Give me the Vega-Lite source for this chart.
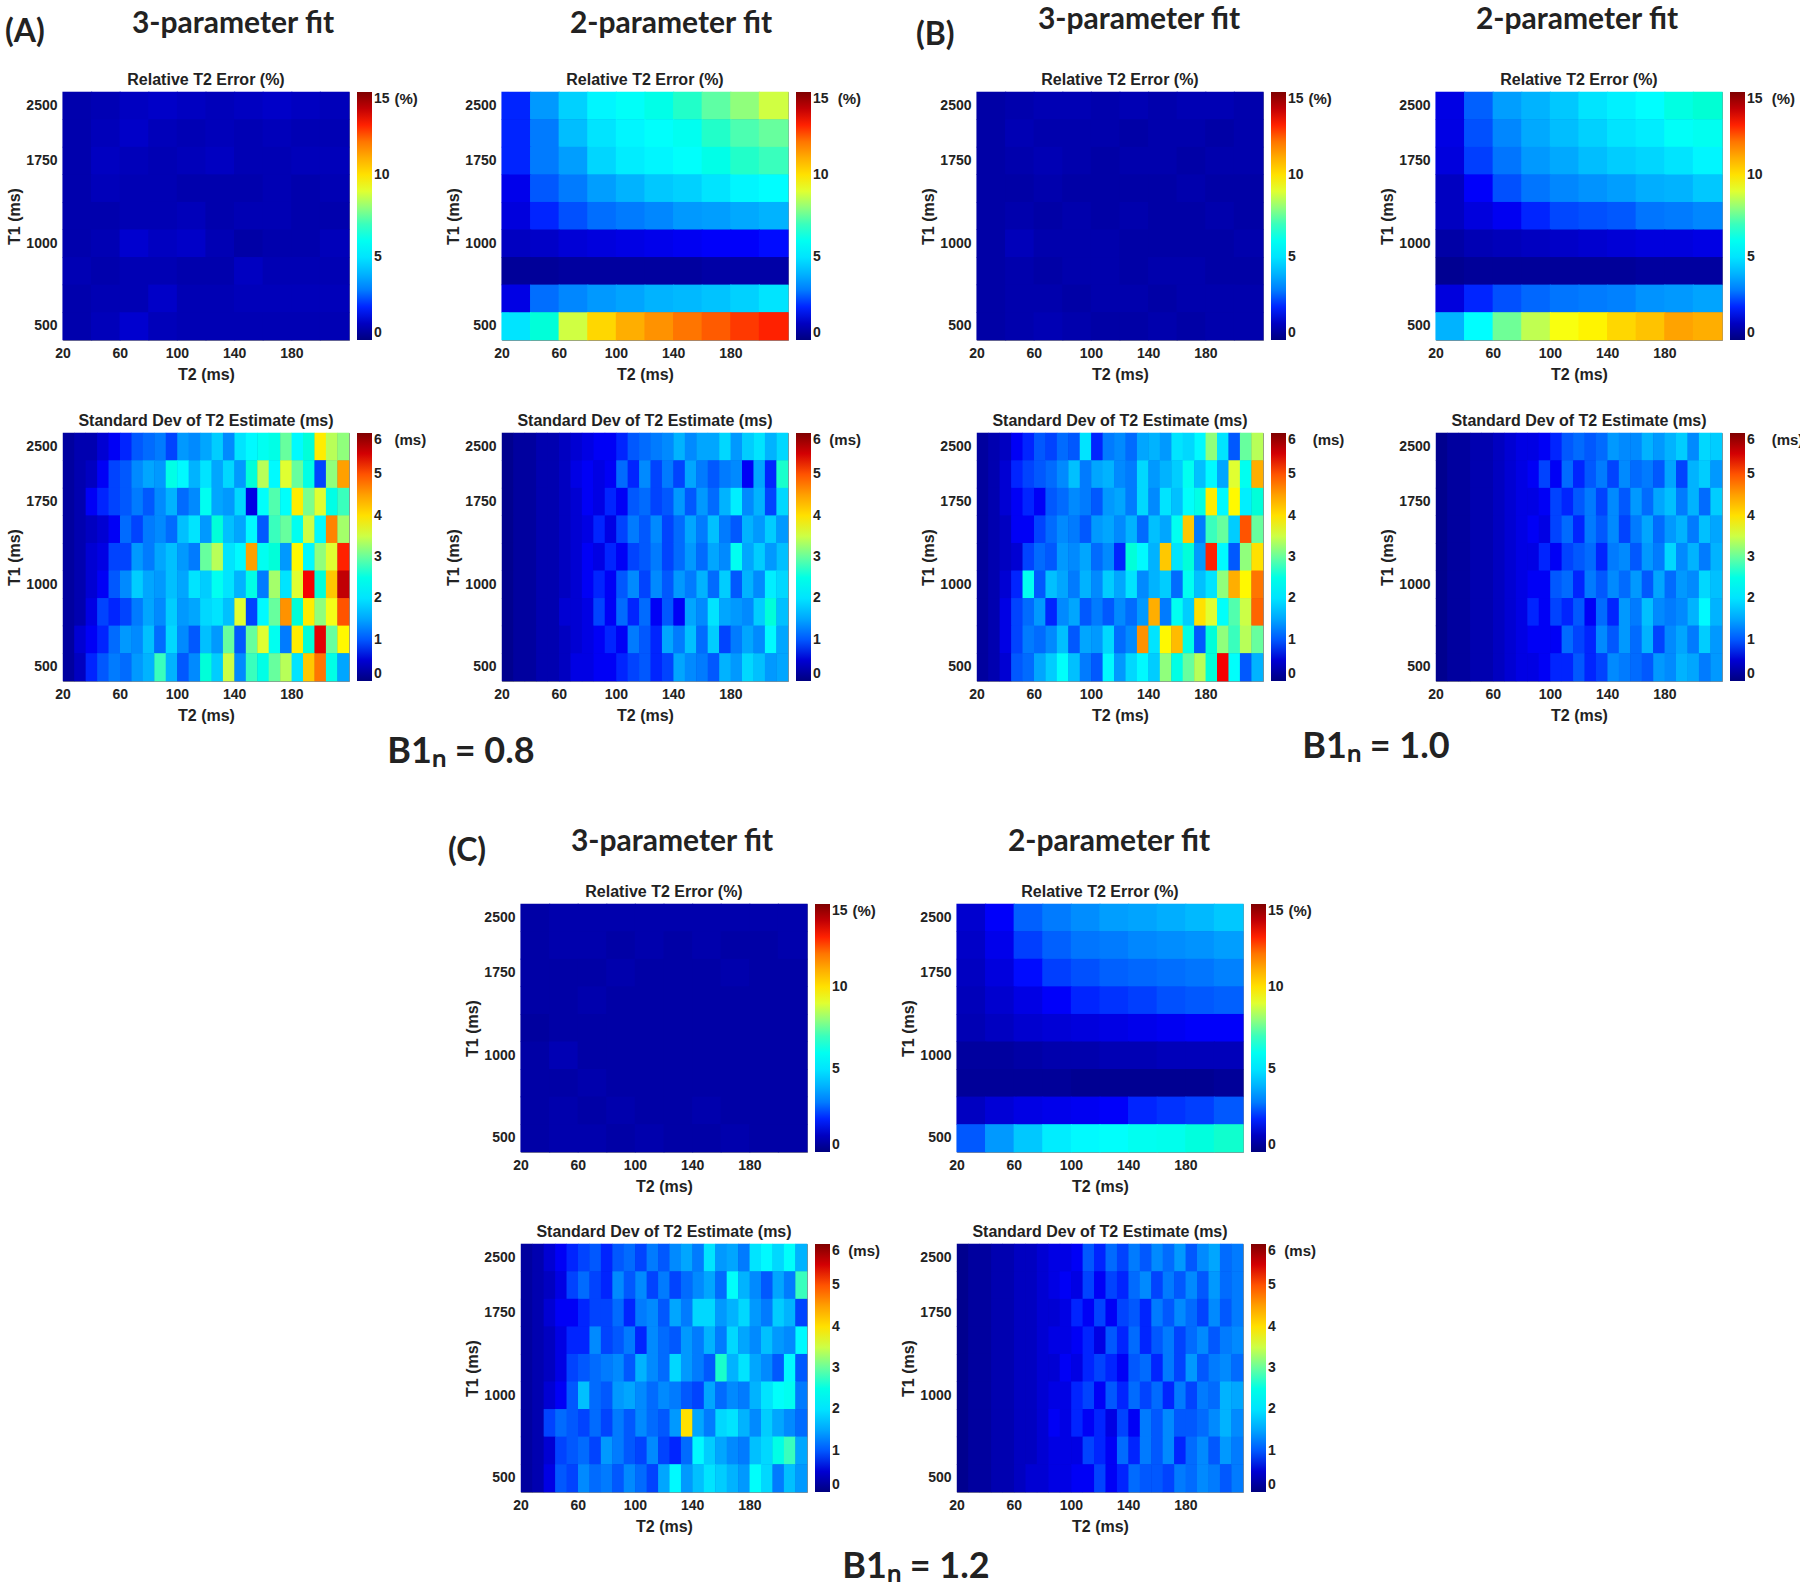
{"$schema":"https://vega.github.io/schema/vega-lite/v6.json","background":"white","padding":{"left":5,"top":5,"right":0,"bottom":0},
"config":{"view":{"stroke":"#8c8c8c","strokeWidth":1,"fill":"#0000a0"},
"axis":{"ticks":false,"domain":false,"grid":false,"labelFont":"Liberation Sans","labelFontWeight":"bold","labelFontSize":14,"labelColor":"#222","titleFont":"Liberation Sans","titleFontWeight":"bold","titleFontSize":16,"titleColor":"#222"},
"axisX":{"labelAngle":0,"labelPadding":6,"titlePadding":6},"axisY":{"labelPadding":6,"titlePadding":3},
"legend":{"orient":"right","offset":8,"gradientLength":248,"gradientThickness":15,"labelFont":"Liberation Sans","labelFontWeight":"bold","labelFontSize":14,"labelColor":"#222","labelOffset":4,"titleOrient":"top","titleAnchor":"start","titleFont":"Liberation Sans","titleFontWeight":"bold","titleFontSize":15,"titleColor":"#222","titlePadding":-15,"padding":0},
"title":{"font":"Liberation Sans","fontWeight":"bold","fontSize":16,"color":"#222","offset":4}},
"datasets":{
"a3e":[{"T1":2500,"T2":20,"v":0.7},{"T1":2500,"T2":40,"v":0.8},{"T1":2500,"T2":60,"v":1.0},{"T1":2500,"T2":80,"v":1.1},{"T1":2500,"T2":100,"v":1.0},{"T1":2500,"T2":120,"v":0.9},{"T1":2500,"T2":140,"v":1.0},{"T1":2500,"T2":160,"v":1.1},{"T1":2500,"T2":180,"v":1.0},{"T1":2500,"T2":200,"v":0.9},
{"T1":2000,"T2":20,"v":0.7},{"T1":2000,"T2":40,"v":0.9},{"T1":2000,"T2":60,"v":1.1},{"T1":2000,"T2":80,"v":0.9},{"T1":2000,"T2":100,"v":0.8},{"T1":2000,"T2":120,"v":0.9},{"T1":2000,"T2":140,"v":0.8},{"T1":2000,"T2":160,"v":0.9},{"T1":2000,"T2":180,"v":0.8},{"T1":2000,"T2":200,"v":0.8},
{"T1":1750,"T2":20,"v":0.7},{"T1":1750,"T2":40,"v":1.0},{"T1":1750,"T2":60,"v":0.9},{"T1":1750,"T2":80,"v":0.8},{"T1":1750,"T2":100,"v":0.9},{"T1":1750,"T2":120,"v":1.0},{"T1":1750,"T2":140,"v":0.8},{"T1":1750,"T2":160,"v":0.8},{"T1":1750,"T2":180,"v":0.9},{"T1":1750,"T2":200,"v":0.9},
{"T1":1500,"T2":20,"v":0.7},{"T1":1500,"T2":40,"v":0.9},{"T1":1500,"T2":60,"v":0.8},{"T1":1500,"T2":80,"v":0.8},{"T1":1500,"T2":100,"v":0.7},{"T1":1500,"T2":120,"v":0.7},{"T1":1500,"T2":140,"v":0.7},{"T1":1500,"T2":160,"v":0.8},{"T1":1500,"T2":180,"v":0.7},{"T1":1500,"T2":200,"v":0.8},
{"T1":1250,"T2":20,"v":0.7},{"T1":1250,"T2":40,"v":0.7},{"T1":1250,"T2":60,"v":0.8},{"T1":1250,"T2":80,"v":0.8},{"T1":1250,"T2":100,"v":0.9},{"T1":1250,"T2":120,"v":0.7},{"T1":1250,"T2":140,"v":0.8},{"T1":1250,"T2":160,"v":0.8},{"T1":1250,"T2":180,"v":0.7},{"T1":1250,"T2":200,"v":0.7},
{"T1":1000,"T2":20,"v":0.7},{"T1":1000,"T2":40,"v":0.8},{"T1":1000,"T2":60,"v":1.2},{"T1":1000,"T2":80,"v":1.0},{"T1":1000,"T2":100,"v":1.1},{"T1":1000,"T2":120,"v":0.8},{"T1":1000,"T2":140,"v":0.6},{"T1":1000,"T2":160,"v":0.7},{"T1":1000,"T2":180,"v":0.7},{"T1":1000,"T2":200,"v":0.9},
{"T1":850,"T2":20,"v":0.8},{"T1":850,"T2":40,"v":0.7},{"T1":850,"T2":60,"v":0.8},{"T1":850,"T2":80,"v":0.8},{"T1":850,"T2":100,"v":0.7},{"T1":850,"T2":120,"v":0.7},{"T1":850,"T2":140,"v":1.0},{"T1":850,"T2":160,"v":0.8},{"T1":850,"T2":180,"v":0.8},{"T1":850,"T2":200,"v":0.8},
{"T1":700,"T2":20,"v":0.7},{"T1":700,"T2":40,"v":0.8},{"T1":700,"T2":60,"v":0.8},{"T1":700,"T2":80,"v":1.1},{"T1":700,"T2":100,"v":0.8},{"T1":700,"T2":120,"v":0.8},{"T1":700,"T2":140,"v":0.9},{"T1":700,"T2":160,"v":0.9},{"T1":700,"T2":180,"v":0.9},{"T1":700,"T2":200,"v":0.9},
{"T1":500,"T2":20,"v":0.7},{"T1":500,"T2":40,"v":0.9},{"T1":500,"T2":60,"v":1.2},{"T1":500,"T2":80,"v":0.9},{"T1":500,"T2":100,"v":0.8},{"T1":500,"T2":120,"v":0.8},{"T1":500,"T2":140,"v":0.8},{"T1":500,"T2":160,"v":0.8},{"T1":500,"T2":180,"v":0.8},{"T1":500,"T2":200,"v":0.8}],
"a2e":[{"T1":2500,"T2":20,"v":2.0},{"T1":2500,"T2":40,"v":3.5},{"T1":2500,"T2":60,"v":4.6},{"T1":2500,"T2":80,"v":5.4},{"T1":2500,"T2":100,"v":5.8},{"T1":2500,"T2":120,"v":6.2},{"T1":2500,"T2":140,"v":6.8},{"T1":2500,"T2":160,"v":7.4},{"T1":2500,"T2":180,"v":8.0},{"T1":2500,"T2":200,"v":8.8},
{"T1":2000,"T2":20,"v":2.0},{"T1":2000,"T2":40,"v":3.0},{"T1":2000,"T2":60,"v":4.2},{"T1":2000,"T2":80,"v":5.0},{"T1":2000,"T2":100,"v":5.4},{"T1":2000,"T2":120,"v":5.7},{"T1":2000,"T2":140,"v":6.0},{"T1":2000,"T2":160,"v":6.8},{"T1":2000,"T2":180,"v":7.2},{"T1":2000,"T2":200,"v":7.5},
{"T1":1750,"T2":20,"v":2.0},{"T1":1750,"T2":40,"v":3.0},{"T1":1750,"T2":60,"v":3.6},{"T1":1750,"T2":80,"v":4.7},{"T1":1750,"T2":100,"v":5.2},{"T1":1750,"T2":120,"v":5.4},{"T1":1750,"T2":140,"v":5.7},{"T1":1750,"T2":160,"v":6.2},{"T1":1750,"T2":180,"v":6.8},{"T1":1750,"T2":200,"v":7.0},
{"T1":1500,"T2":20,"v":1.6},{"T1":1500,"T2":40,"v":2.5},{"T1":1500,"T2":60,"v":3.0},{"T1":1500,"T2":80,"v":3.6},{"T1":1500,"T2":100,"v":4.0},{"T1":1500,"T2":120,"v":4.4},{"T1":1500,"T2":140,"v":4.6},{"T1":1500,"T2":160,"v":5.0},{"T1":1500,"T2":180,"v":5.4},{"T1":1500,"T2":200,"v":5.6},
{"T1":1250,"T2":20,"v":1.4},{"T1":1250,"T2":40,"v":2.0},{"T1":1250,"T2":60,"v":2.4},{"T1":1250,"T2":80,"v":2.8},{"T1":1250,"T2":100,"v":3.0},{"T1":1250,"T2":120,"v":3.2},{"T1":1250,"T2":140,"v":3.5},{"T1":1250,"T2":160,"v":3.6},{"T1":1250,"T2":180,"v":3.8},{"T1":1250,"T2":200,"v":4.0},
{"T1":1000,"T2":20,"v":1.0},{"T1":1000,"T2":40,"v":1.1},{"T1":1000,"T2":60,"v":1.3},{"T1":1000,"T2":80,"v":1.4},{"T1":1000,"T2":100,"v":1.5},{"T1":1000,"T2":120,"v":1.6},{"T1":1000,"T2":140,"v":1.7},{"T1":1000,"T2":160,"v":1.8},{"T1":1000,"T2":180,"v":1.8},{"T1":1000,"T2":200,"v":1.9},
{"T1":850,"T2":20,"v":0.4},{"T1":850,"T2":40,"v":0.4},{"T1":850,"T2":60,"v":0.5},{"T1":850,"T2":80,"v":0.5},{"T1":850,"T2":100,"v":0.5},{"T1":850,"T2":120,"v":0.5},{"T1":850,"T2":140,"v":0.5},{"T1":850,"T2":160,"v":0.6},{"T1":850,"T2":180,"v":0.6},{"T1":850,"T2":200,"v":0.6},
{"T1":700,"T2":20,"v":1.5},{"T1":700,"T2":40,"v":2.8},{"T1":700,"T2":60,"v":3.2},{"T1":700,"T2":80,"v":3.5},{"T1":700,"T2":100,"v":3.7},{"T1":700,"T2":120,"v":4.0},{"T1":700,"T2":140,"v":4.1},{"T1":700,"T2":160,"v":4.3},{"T1":700,"T2":180,"v":4.6},{"T1":700,"T2":200,"v":5.0},
{"T1":500,"T2":20,"v":5.0},{"T1":500,"T2":40,"v":6.5},{"T1":500,"T2":60,"v":8.8},{"T1":500,"T2":80,"v":10.2},{"T1":500,"T2":100,"v":11.0},{"T1":500,"T2":120,"v":11.5},{"T1":500,"T2":140,"v":12.0},{"T1":500,"T2":160,"v":12.4},{"T1":500,"T2":180,"v":12.8},{"T1":500,"T2":200,"v":13.0}],
"b3e":[{"T1":2500,"T2":20,"v":0.6},{"T1":2500,"T2":40,"v":0.7},{"T1":2500,"T2":60,"v":0.8},{"T1":2500,"T2":80,"v":0.8},{"T1":2500,"T2":100,"v":0.7},{"T1":2500,"T2":120,"v":0.8},{"T1":2500,"T2":140,"v":0.7},{"T1":2500,"T2":160,"v":0.8},{"T1":2500,"T2":180,"v":0.8},{"T1":2500,"T2":200,"v":0.7},
{"T1":2000,"T2":20,"v":0.6},{"T1":2000,"T2":40,"v":0.8},{"T1":2000,"T2":60,"v":0.7},{"T1":2000,"T2":80,"v":0.7},{"T1":2000,"T2":100,"v":0.7},{"T1":2000,"T2":120,"v":0.6},{"T1":2000,"T2":140,"v":0.7},{"T1":2000,"T2":160,"v":0.7},{"T1":2000,"T2":180,"v":0.6},{"T1":2000,"T2":200,"v":0.7},
{"T1":1750,"T2":20,"v":0.6},{"T1":1750,"T2":40,"v":0.7},{"T1":1750,"T2":60,"v":0.8},{"T1":1750,"T2":80,"v":0.7},{"T1":1750,"T2":100,"v":0.6},{"T1":1750,"T2":120,"v":0.7},{"T1":1750,"T2":140,"v":0.7},{"T1":1750,"T2":160,"v":0.6},{"T1":1750,"T2":180,"v":0.7},{"T1":1750,"T2":200,"v":0.7},
{"T1":1500,"T2":20,"v":0.6},{"T1":1500,"T2":40,"v":0.6},{"T1":1500,"T2":60,"v":0.7},{"T1":1500,"T2":80,"v":0.6},{"T1":1500,"T2":100,"v":0.6},{"T1":1500,"T2":120,"v":0.6},{"T1":1500,"T2":140,"v":0.6},{"T1":1500,"T2":160,"v":0.7},{"T1":1500,"T2":180,"v":0.6},{"T1":1500,"T2":200,"v":0.6},
{"T1":1250,"T2":20,"v":0.6},{"T1":1250,"T2":40,"v":0.7},{"T1":1250,"T2":60,"v":0.6},{"T1":1250,"T2":80,"v":0.7},{"T1":1250,"T2":100,"v":0.6},{"T1":1250,"T2":120,"v":0.7},{"T1":1250,"T2":140,"v":0.6},{"T1":1250,"T2":160,"v":0.6},{"T1":1250,"T2":180,"v":0.7},{"T1":1250,"T2":200,"v":0.6},
{"T1":1000,"T2":20,"v":0.6},{"T1":1000,"T2":40,"v":0.9},{"T1":1000,"T2":60,"v":0.7},{"T1":1000,"T2":80,"v":0.7},{"T1":1000,"T2":100,"v":0.7},{"T1":1000,"T2":120,"v":0.6},{"T1":1000,"T2":140,"v":0.6},{"T1":1000,"T2":160,"v":0.6},{"T1":1000,"T2":180,"v":0.6},{"T1":1000,"T2":200,"v":0.7},
{"T1":850,"T2":20,"v":0.6},{"T1":850,"T2":40,"v":0.7},{"T1":850,"T2":60,"v":0.6},{"T1":850,"T2":80,"v":0.7},{"T1":850,"T2":100,"v":0.7},{"T1":850,"T2":120,"v":0.6},{"T1":850,"T2":140,"v":0.7},{"T1":850,"T2":160,"v":0.7},{"T1":850,"T2":180,"v":0.6},{"T1":850,"T2":200,"v":0.6},
{"T1":700,"T2":20,"v":0.6},{"T1":700,"T2":40,"v":0.7},{"T1":700,"T2":60,"v":0.7},{"T1":700,"T2":80,"v":0.6},{"T1":700,"T2":100,"v":0.7},{"T1":700,"T2":120,"v":0.7},{"T1":700,"T2":140,"v":0.6},{"T1":700,"T2":160,"v":0.7},{"T1":700,"T2":180,"v":0.7},{"T1":700,"T2":200,"v":0.7},
{"T1":500,"T2":20,"v":0.6},{"T1":500,"T2":40,"v":0.7},{"T1":500,"T2":60,"v":0.8},{"T1":500,"T2":80,"v":0.7},{"T1":500,"T2":100,"v":0.6},{"T1":500,"T2":120,"v":0.6},{"T1":500,"T2":140,"v":0.7},{"T1":500,"T2":160,"v":0.6},{"T1":500,"T2":180,"v":0.7},{"T1":500,"T2":200,"v":0.7}],
"b2e":[{"T1":2500,"T2":20,"v":1.5},{"T1":2500,"T2":40,"v":2.6},{"T1":2500,"T2":60,"v":3.6},{"T1":2500,"T2":80,"v":4.0},{"T1":2500,"T2":100,"v":4.4},{"T1":2500,"T2":120,"v":5.0},{"T1":2500,"T2":140,"v":5.3},{"T1":2500,"T2":160,"v":5.6},{"T1":2500,"T2":180,"v":6.3},{"T1":2500,"T2":200,"v":6.6},
{"T1":2000,"T2":20,"v":1.5},{"T1":2000,"T2":40,"v":2.4},{"T1":2000,"T2":60,"v":3.2},{"T1":2000,"T2":80,"v":3.8},{"T1":2000,"T2":100,"v":4.2},{"T1":2000,"T2":120,"v":4.6},{"T1":2000,"T2":140,"v":5.0},{"T1":2000,"T2":160,"v":5.2},{"T1":2000,"T2":180,"v":5.8},{"T1":2000,"T2":200,"v":6.0},
{"T1":1750,"T2":20,"v":1.4},{"T1":1750,"T2":40,"v":2.2},{"T1":1750,"T2":60,"v":2.9},{"T1":1750,"T2":80,"v":3.5},{"T1":1750,"T2":100,"v":3.8},{"T1":1750,"T2":120,"v":4.2},{"T1":1750,"T2":140,"v":4.5},{"T1":1750,"T2":160,"v":4.7},{"T1":1750,"T2":180,"v":5.0},{"T1":1750,"T2":200,"v":5.4},
{"T1":1500,"T2":20,"v":1.0},{"T1":1500,"T2":40,"v":1.8},{"T1":1500,"T2":60,"v":2.4},{"T1":1500,"T2":80,"v":2.9},{"T1":1500,"T2":100,"v":3.2},{"T1":1500,"T2":120,"v":3.4},{"T1":1500,"T2":140,"v":3.6},{"T1":1500,"T2":160,"v":3.9},{"T1":1500,"T2":180,"v":4.0},{"T1":1500,"T2":200,"v":4.4},
{"T1":1250,"T2":20,"v":1.0},{"T1":1250,"T2":40,"v":1.4},{"T1":1250,"T2":60,"v":1.7},{"T1":1250,"T2":80,"v":2.0},{"T1":1250,"T2":100,"v":2.3},{"T1":1250,"T2":120,"v":2.4},{"T1":1250,"T2":140,"v":2.5},{"T1":1250,"T2":160,"v":2.9},{"T1":1250,"T2":180,"v":3.0},{"T1":1250,"T2":200,"v":3.2},
{"T1":1000,"T2":20,"v":0.6},{"T1":1000,"T2":40,"v":0.8},{"T1":1000,"T2":60,"v":0.9},{"T1":1000,"T2":80,"v":1.0},{"T1":1000,"T2":100,"v":1.1},{"T1":1000,"T2":120,"v":1.2},{"T1":1000,"T2":140,"v":1.3},{"T1":1000,"T2":160,"v":1.4},{"T1":1000,"T2":180,"v":1.4},{"T1":1000,"T2":200,"v":1.5},
{"T1":850,"T2":20,"v":0.3},{"T1":850,"T2":40,"v":0.4},{"T1":850,"T2":60,"v":0.4},{"T1":850,"T2":80,"v":0.4},{"T1":850,"T2":100,"v":0.4},{"T1":850,"T2":120,"v":0.4},{"T1":850,"T2":140,"v":0.4},{"T1":850,"T2":160,"v":0.5},{"T1":850,"T2":180,"v":0.5},{"T1":850,"T2":200,"v":0.5},
{"T1":700,"T2":20,"v":1.4},{"T1":700,"T2":40,"v":2.0},{"T1":700,"T2":60,"v":2.4},{"T1":700,"T2":80,"v":2.7},{"T1":700,"T2":100,"v":2.9},{"T1":700,"T2":120,"v":3.0},{"T1":700,"T2":140,"v":3.1},{"T1":700,"T2":160,"v":3.4},{"T1":700,"T2":180,"v":3.5},{"T1":700,"T2":200,"v":3.7},
{"T1":500,"T2":20,"v":4.0},{"T1":500,"T2":40,"v":5.6},{"T1":500,"T2":60,"v":7.6},{"T1":500,"T2":80,"v":8.6},{"T1":500,"T2":100,"v":9.3},{"T1":500,"T2":120,"v":9.6},{"T1":500,"T2":140,"v":10.2},{"T1":500,"T2":160,"v":10.6},{"T1":500,"T2":180,"v":11.2},{"T1":500,"T2":200,"v":11.0}],
"c3e":[{"T1":2500,"T2":20,"v":0.6},{"T1":2500,"T2":40,"v":0.7},{"T1":2500,"T2":60,"v":0.7},{"T1":2500,"T2":80,"v":0.7},{"T1":2500,"T2":100,"v":0.7},{"T1":2500,"T2":120,"v":0.7},{"T1":2500,"T2":140,"v":0.7},{"T1":2500,"T2":160,"v":0.7},{"T1":2500,"T2":180,"v":0.7},{"T1":2500,"T2":200,"v":0.7},
{"T1":2000,"T2":20,"v":0.6},{"T1":2000,"T2":40,"v":0.7},{"T1":2000,"T2":60,"v":0.7},{"T1":2000,"T2":80,"v":0.6},{"T1":2000,"T2":100,"v":0.7},{"T1":2000,"T2":120,"v":0.6},{"T1":2000,"T2":140,"v":0.7},{"T1":2000,"T2":160,"v":0.6},{"T1":2000,"T2":180,"v":0.6},{"T1":2000,"T2":200,"v":0.7},
{"T1":1750,"T2":20,"v":0.6},{"T1":1750,"T2":40,"v":0.6},{"T1":1750,"T2":60,"v":0.6},{"T1":1750,"T2":80,"v":0.7},{"T1":1750,"T2":100,"v":0.6},{"T1":1750,"T2":120,"v":0.6},{"T1":1750,"T2":140,"v":0.6},{"T1":1750,"T2":160,"v":0.7},{"T1":1750,"T2":180,"v":0.6},{"T1":1750,"T2":200,"v":0.6},
{"T1":1500,"T2":20,"v":0.6},{"T1":1500,"T2":40,"v":0.6},{"T1":1500,"T2":60,"v":0.7},{"T1":1500,"T2":80,"v":0.6},{"T1":1500,"T2":100,"v":0.6},{"T1":1500,"T2":120,"v":0.6},{"T1":1500,"T2":140,"v":0.6},{"T1":1500,"T2":160,"v":0.6},{"T1":1500,"T2":180,"v":0.6},{"T1":1500,"T2":200,"v":0.6},
{"T1":1250,"T2":20,"v":0.5},{"T1":1250,"T2":40,"v":0.6},{"T1":1250,"T2":60,"v":0.6},{"T1":1250,"T2":80,"v":0.6},{"T1":1250,"T2":100,"v":0.6},{"T1":1250,"T2":120,"v":0.6},{"T1":1250,"T2":140,"v":0.6},{"T1":1250,"T2":160,"v":0.6},{"T1":1250,"T2":180,"v":0.6},{"T1":1250,"T2":200,"v":0.6},
{"T1":1000,"T2":20,"v":0.6},{"T1":1000,"T2":40,"v":0.8},{"T1":1000,"T2":60,"v":0.6},{"T1":1000,"T2":80,"v":0.6},{"T1":1000,"T2":100,"v":0.6},{"T1":1000,"T2":120,"v":0.6},{"T1":1000,"T2":140,"v":0.6},{"T1":1000,"T2":160,"v":0.6},{"T1":1000,"T2":180,"v":0.6},{"T1":1000,"T2":200,"v":0.6},
{"T1":850,"T2":20,"v":0.6},{"T1":850,"T2":40,"v":0.6},{"T1":850,"T2":60,"v":0.7},{"T1":850,"T2":80,"v":0.6},{"T1":850,"T2":100,"v":0.6},{"T1":850,"T2":120,"v":0.6},{"T1":850,"T2":140,"v":0.6},{"T1":850,"T2":160,"v":0.6},{"T1":850,"T2":180,"v":0.6},{"T1":850,"T2":200,"v":0.6},
{"T1":700,"T2":20,"v":0.6},{"T1":700,"T2":40,"v":0.7},{"T1":700,"T2":60,"v":0.6},{"T1":700,"T2":80,"v":0.7},{"T1":700,"T2":100,"v":0.6},{"T1":700,"T2":120,"v":0.6},{"T1":700,"T2":140,"v":0.7},{"T1":700,"T2":160,"v":0.6},{"T1":700,"T2":180,"v":0.6},{"T1":700,"T2":200,"v":0.6},
{"T1":500,"T2":20,"v":0.6},{"T1":500,"T2":40,"v":0.7},{"T1":500,"T2":60,"v":0.7},{"T1":500,"T2":80,"v":0.6},{"T1":500,"T2":100,"v":0.7},{"T1":500,"T2":120,"v":0.6},{"T1":500,"T2":140,"v":0.6},{"T1":500,"T2":160,"v":0.7},{"T1":500,"T2":180,"v":0.6},{"T1":500,"T2":200,"v":0.6}],
"c2e":[{"T1":2500,"T2":20,"v":1.2},{"T1":2500,"T2":40,"v":1.8},{"T1":2500,"T2":60,"v":2.6},{"T1":2500,"T2":80,"v":3.0},{"T1":2500,"T2":100,"v":3.3},{"T1":2500,"T2":120,"v":3.6},{"T1":2500,"T2":140,"v":3.7},{"T1":2500,"T2":160,"v":3.9},{"T1":2500,"T2":180,"v":4.1},{"T1":2500,"T2":200,"v":4.4},
{"T1":2000,"T2":20,"v":1.1},{"T1":2000,"T2":40,"v":1.6},{"T1":2000,"T2":60,"v":2.2},{"T1":2000,"T2":80,"v":2.6},{"T1":2000,"T2":100,"v":2.9},{"T1":2000,"T2":120,"v":3.0},{"T1":2000,"T2":140,"v":3.2},{"T1":2000,"T2":160,"v":3.3},{"T1":2000,"T2":180,"v":3.4},{"T1":2000,"T2":200,"v":3.6},
{"T1":1750,"T2":20,"v":1.0},{"T1":1750,"T2":40,"v":1.4},{"T1":1750,"T2":60,"v":1.9},{"T1":1750,"T2":80,"v":2.2},{"T1":1750,"T2":100,"v":2.4},{"T1":1750,"T2":120,"v":2.6},{"T1":1750,"T2":140,"v":2.7},{"T1":1750,"T2":160,"v":2.8},{"T1":1750,"T2":180,"v":2.9},{"T1":1750,"T2":200,"v":3.1},
{"T1":1500,"T2":20,"v":0.9},{"T1":1500,"T2":40,"v":1.2},{"T1":1500,"T2":60,"v":1.5},{"T1":1500,"T2":80,"v":1.8},{"T1":1500,"T2":100,"v":2.0},{"T1":1500,"T2":120,"v":2.1},{"T1":1500,"T2":140,"v":2.2},{"T1":1500,"T2":160,"v":2.4},{"T1":1500,"T2":180,"v":2.5},{"T1":1500,"T2":200,"v":2.6},
{"T1":1250,"T2":20,"v":0.8},{"T1":1250,"T2":40,"v":1.0},{"T1":1250,"T2":60,"v":1.2},{"T1":1250,"T2":80,"v":1.3},{"T1":1250,"T2":100,"v":1.4},{"T1":1250,"T2":120,"v":1.5},{"T1":1250,"T2":140,"v":1.6},{"T1":1250,"T2":160,"v":1.7},{"T1":1250,"T2":180,"v":1.8},{"T1":1250,"T2":200,"v":1.8},
{"T1":1000,"T2":20,"v":0.5},{"T1":1000,"T2":40,"v":0.5},{"T1":1000,"T2":60,"v":0.6},{"T1":1000,"T2":80,"v":0.7},{"T1":1000,"T2":100,"v":0.7},{"T1":1000,"T2":120,"v":0.8},{"T1":1000,"T2":140,"v":0.8},{"T1":1000,"T2":160,"v":0.9},{"T1":1000,"T2":180,"v":0.9},{"T1":1000,"T2":200,"v":0.9},
{"T1":850,"T2":20,"v":0.4},{"T1":850,"T2":40,"v":0.4},{"T1":850,"T2":60,"v":0.4},{"T1":850,"T2":80,"v":0.4},{"T1":850,"T2":100,"v":0.3},{"T1":850,"T2":120,"v":0.3},{"T1":850,"T2":140,"v":0.3},{"T1":850,"T2":160,"v":0.3},{"T1":850,"T2":180,"v":0.3},{"T1":850,"T2":200,"v":0.4},
{"T1":700,"T2":20,"v":1.0},{"T1":700,"T2":40,"v":1.3},{"T1":700,"T2":60,"v":1.5},{"T1":700,"T2":80,"v":1.6},{"T1":700,"T2":100,"v":1.7},{"T1":700,"T2":120,"v":1.8},{"T1":700,"T2":140,"v":2.0},{"T1":700,"T2":160,"v":2.1},{"T1":700,"T2":180,"v":2.2},{"T1":700,"T2":200,"v":2.5},
{"T1":500,"T2":20,"v":2.5},{"T1":500,"T2":40,"v":3.5},{"T1":500,"T2":60,"v":4.4},{"T1":500,"T2":80,"v":5.2},{"T1":500,"T2":100,"v":5.5},{"T1":500,"T2":120,"v":5.7},{"T1":500,"T2":140,"v":6.0},{"T1":500,"T2":160,"v":6.1},{"T1":500,"T2":180,"v":6.4},{"T1":500,"T2":200,"v":6.7}],
"a3s":[{"T1":2500,"T2":20,"v":0.2},{"T1":2500,"T2":28,"v":0.3},{"T1":2500,"T2":36,"v":0.3},{"T1":2500,"T2":44,"v":0.5},{"T1":2500,"T2":52,"v":0.7},{"T1":2500,"T2":60,"v":0.8},{"T1":2500,"T2":68,"v":1.0},{"T1":2500,"T2":76,"v":1.1},{"T1":2500,"T2":84,"v":1.2},{"T1":2500,"T2":92,"v":0.9},{"T1":2500,"T2":100,"v":1.4},{"T1":2500,"T2":108,"v":1.3},{"T1":2500,"T2":116,"v":1.5},{"T1":2500,"T2":124,"v":1.8},{"T1":2500,"T2":132,"v":1.3},{"T1":2500,"T2":140,"v":2.0},{"T1":2500,"T2":148,"v":2.2},{"T1":2500,"T2":156,"v":2.4},{"T1":2500,"T2":164,"v":2.5},{"T1":2500,"T2":172,"v":3.0},{"T1":2500,"T2":180,"v":2.2},{"T1":2500,"T2":188,"v":2.6},{"T1":2500,"T2":196,"v":3.9},{"T1":2500,"T2":204,"v":3.4},{"T1":2500,"T2":212,"v":3.2},
{"T1":2000,"T2":20,"v":0.2},{"T1":2000,"T2":28,"v":0.3},{"T1":2000,"T2":36,"v":0.4},{"T1":2000,"T2":44,"v":0.7},{"T1":2000,"T2":52,"v":0.9},{"T1":2000,"T2":60,"v":1.0},{"T1":2000,"T2":68,"v":1.3},{"T1":2000,"T2":76,"v":1.5},{"T1":2000,"T2":84,"v":1.4},{"T1":2000,"T2":92,"v":2.5},{"T1":2000,"T2":100,"v":2.2},{"T1":2000,"T2":108,"v":1.6},{"T1":2000,"T2":116,"v":2.0},{"T1":2000,"T2":124,"v":1.5},{"T1":2000,"T2":132,"v":1.9},{"T1":2000,"T2":140,"v":1.4},{"T1":2000,"T2":148,"v":2.6},{"T1":2000,"T2":156,"v":3.4},{"T1":2000,"T2":164,"v":2.2},{"T1":2000,"T2":172,"v":3.6},{"T1":2000,"T2":180,"v":3.0},{"T1":2000,"T2":188,"v":2.5},{"T1":2000,"T2":196,"v":0.9},{"T1":2000,"T2":204,"v":3.2},{"T1":2000,"T2":212,"v":4.5},
{"T1":1750,"T2":20,"v":0.2},{"T1":1750,"T2":28,"v":0.3},{"T1":1750,"T2":36,"v":0.7},{"T1":1750,"T2":44,"v":0.8},{"T1":1750,"T2":52,"v":0.9},{"T1":1750,"T2":60,"v":1.0},{"T1":1750,"T2":68,"v":1.2},{"T1":1750,"T2":76,"v":1.0},{"T1":1750,"T2":84,"v":1.3},{"T1":1750,"T2":92,"v":1.6},{"T1":1750,"T2":100,"v":1.1},{"T1":1750,"T2":108,"v":1.3},{"T1":1750,"T2":116,"v":2.4},{"T1":1750,"T2":124,"v":1.5},{"T1":1750,"T2":132,"v":1.4},{"T1":1750,"T2":140,"v":1.9},{"T1":1750,"T2":148,"v":0.6},{"T1":1750,"T2":156,"v":2.3},{"T1":1750,"T2":164,"v":2.9},{"T1":1750,"T2":172,"v":2.3},{"T1":1750,"T2":180,"v":3.9},{"T1":1750,"T2":188,"v":3.1},{"T1":1750,"T2":196,"v":3.6},{"T1":1750,"T2":204,"v":2.5},{"T1":1750,"T2":212,"v":2.8},
{"T1":1500,"T2":20,"v":0.2},{"T1":1500,"T2":28,"v":0.3},{"T1":1500,"T2":36,"v":0.4},{"T1":1500,"T2":44,"v":0.5},{"T1":1500,"T2":52,"v":0.7},{"T1":1500,"T2":60,"v":1.1},{"T1":1500,"T2":68,"v":0.9},{"T1":1500,"T2":76,"v":1.2},{"T1":1500,"T2":84,"v":1.3},{"T1":1500,"T2":92,"v":1.1},{"T1":1500,"T2":100,"v":1.7},{"T1":1500,"T2":108,"v":2.0},{"T1":1500,"T2":116,"v":1.4},{"T1":1500,"T2":124,"v":2.6},{"T1":1500,"T2":132,"v":1.7},{"T1":1500,"T2":140,"v":1.5},{"T1":1500,"T2":148,"v":2.2},{"T1":1500,"T2":156,"v":1.0},{"T1":1500,"T2":164,"v":2.8},{"T1":1500,"T2":172,"v":3.0},{"T1":1500,"T2":180,"v":2.4},{"T1":1500,"T2":188,"v":3.5},{"T1":1500,"T2":196,"v":2.2},{"T1":1500,"T2":204,"v":4.7},{"T1":1500,"T2":212,"v":3.3},
{"T1":1250,"T2":20,"v":0.2},{"T1":1250,"T2":28,"v":0.3},{"T1":1250,"T2":36,"v":0.5},{"T1":1250,"T2":44,"v":0.6},{"T1":1250,"T2":52,"v":0.9},{"T1":1250,"T2":60,"v":0.9},{"T1":1250,"T2":68,"v":1.4},{"T1":1250,"T2":76,"v":1.2},{"T1":1250,"T2":84,"v":1.5},{"T1":1250,"T2":92,"v":1.7},{"T1":1250,"T2":100,"v":1.4},{"T1":1250,"T2":108,"v":1.2},{"T1":1250,"T2":116,"v":3.0},{"T1":1250,"T2":124,"v":3.4},{"T1":1250,"T2":132,"v":2.0},{"T1":1250,"T2":140,"v":2.2},{"T1":1250,"T2":148,"v":4.5},{"T1":1250,"T2":156,"v":2.4},{"T1":1250,"T2":164,"v":2.6},{"T1":1250,"T2":172,"v":1.4},{"T1":1250,"T2":180,"v":3.8},{"T1":1250,"T2":188,"v":2.2},{"T1":1250,"T2":196,"v":3.2},{"T1":1250,"T2":204,"v":3.6},{"T1":1250,"T2":212,"v":5.2},
{"T1":1000,"T2":20,"v":0.2},{"T1":1000,"T2":28,"v":0.3},{"T1":1000,"T2":36,"v":0.5},{"T1":1000,"T2":44,"v":0.7},{"T1":1000,"T2":52,"v":1.0},{"T1":1000,"T2":60,"v":1.3},{"T1":1000,"T2":68,"v":1.8},{"T1":1000,"T2":76,"v":1.5},{"T1":1000,"T2":84,"v":1.4},{"T1":1000,"T2":92,"v":1.7},{"T1":1000,"T2":100,"v":1.5},{"T1":1000,"T2":108,"v":2.0},{"T1":1000,"T2":116,"v":1.8},{"T1":1000,"T2":124,"v":2.4},{"T1":1000,"T2":132,"v":2.0},{"T1":1000,"T2":140,"v":1.6},{"T1":1000,"T2":148,"v":2.5},{"T1":1000,"T2":156,"v":1.2},{"T1":1000,"T2":164,"v":3.3},{"T1":1000,"T2":172,"v":2.0},{"T1":1000,"T2":180,"v":3.6},{"T1":1000,"T2":188,"v":5.3},{"T1":1000,"T2":196,"v":2.6},{"T1":1000,"T2":204,"v":4.2},{"T1":1000,"T2":212,"v":5.6},
{"T1":850,"T2":20,"v":0.2},{"T1":850,"T2":28,"v":0.3},{"T1":850,"T2":36,"v":0.6},{"T1":850,"T2":44,"v":0.9},{"T1":850,"T2":52,"v":0.8},{"T1":850,"T2":60,"v":0.9},{"T1":850,"T2":68,"v":1.2},{"T1":850,"T2":76,"v":1.5},{"T1":850,"T2":84,"v":1.3},{"T1":850,"T2":92,"v":1.8},{"T1":850,"T2":100,"v":1.4},{"T1":850,"T2":108,"v":1.5},{"T1":850,"T2":116,"v":1.9},{"T1":850,"T2":124,"v":2.0},{"T1":850,"T2":132,"v":1.7},{"T1":850,"T2":140,"v":3.6},{"T1":850,"T2":148,"v":0.9},{"T1":850,"T2":156,"v":2.2},{"T1":850,"T2":164,"v":3.0},{"T1":850,"T2":172,"v":4.6},{"T1":850,"T2":180,"v":2.6},{"T1":850,"T2":188,"v":3.9},{"T1":850,"T2":196,"v":3.2},{"T1":850,"T2":204,"v":3.7},{"T1":850,"T2":212,"v":5.0},
{"T1":700,"T2":20,"v":0.2},{"T1":700,"T2":28,"v":0.5},{"T1":700,"T2":36,"v":0.7},{"T1":700,"T2":44,"v":0.8},{"T1":700,"T2":52,"v":1.1},{"T1":700,"T2":60,"v":1.4},{"T1":700,"T2":68,"v":1.3},{"T1":700,"T2":76,"v":1.7},{"T1":700,"T2":84,"v":1.1},{"T1":700,"T2":92,"v":1.9},{"T1":700,"T2":100,"v":1.3},{"T1":700,"T2":108,"v":1.0},{"T1":700,"T2":116,"v":1.7},{"T1":700,"T2":124,"v":1.4},{"T1":700,"T2":132,"v":3.0},{"T1":700,"T2":140,"v":1.0},{"T1":700,"T2":148,"v":3.0},{"T1":700,"T2":156,"v":3.6},{"T1":700,"T2":164,"v":2.4},{"T1":700,"T2":172,"v":1.2},{"T1":700,"T2":180,"v":3.9},{"T1":700,"T2":188,"v":2.6},{"T1":700,"T2":196,"v":5.4},{"T1":700,"T2":204,"v":3.0},{"T1":700,"T2":212,"v":3.8},
{"T1":500,"T2":20,"v":0.2},{"T1":500,"T2":28,"v":0.4},{"T1":500,"T2":36,"v":0.8},{"T1":500,"T2":44,"v":1.0},{"T1":500,"T2":52,"v":1.2},{"T1":500,"T2":60,"v":1.1},{"T1":500,"T2":68,"v":1.4},{"T1":500,"T2":76,"v":1.6},{"T1":500,"T2":84,"v":2.8},{"T1":500,"T2":92,"v":1.6},{"T1":500,"T2":100,"v":1.0},{"T1":500,"T2":108,"v":1.3},{"T1":500,"T2":116,"v":2.6},{"T1":500,"T2":124,"v":1.8},{"T1":500,"T2":132,"v":3.5},{"T1":500,"T2":140,"v":1.3},{"T1":500,"T2":148,"v":2.8},{"T1":500,"T2":156,"v":2.5},{"T1":500,"T2":164,"v":3.0},{"T1":500,"T2":172,"v":3.4},{"T1":500,"T2":180,"v":2.0},{"T1":500,"T2":188,"v":4.2},{"T1":500,"T2":196,"v":4.8},{"T1":500,"T2":204,"v":2.5},{"T1":500,"T2":212,"v":1.5}],
"a2s":[{"T1":2500,"T2":20,"v":0.1},{"T1":2500,"T2":28,"v":0.2},{"T1":2500,"T2":36,"v":0.2},{"T1":2500,"T2":44,"v":0.3},{"T1":2500,"T2":52,"v":0.3},{"T1":2500,"T2":60,"v":0.4},{"T1":2500,"T2":68,"v":0.5},{"T1":2500,"T2":76,"v":0.6},{"T1":2500,"T2":84,"v":0.7},{"T1":2500,"T2":92,"v":0.7},{"T1":2500,"T2":100,"v":0.8},{"T1":2500,"T2":108,"v":1.0},{"T1":2500,"T2":116,"v":1.1},{"T1":2500,"T2":124,"v":1.2},{"T1":2500,"T2":132,"v":1.3},{"T1":2500,"T2":140,"v":1.6},{"T1":2500,"T2":148,"v":1.3},{"T1":2500,"T2":156,"v":1.5},{"T1":2500,"T2":164,"v":1.5},{"T1":2500,"T2":172,"v":1.9},{"T1":2500,"T2":180,"v":1.4},{"T1":2500,"T2":188,"v":1.8},{"T1":2500,"T2":196,"v":2.0},{"T1":2500,"T2":204,"v":1.6},{"T1":2500,"T2":212,"v":1.9},
{"T1":2000,"T2":20,"v":0.1},{"T1":2000,"T2":28,"v":0.2},{"T1":2000,"T2":36,"v":0.2},{"T1":2000,"T2":44,"v":0.3},{"T1":2000,"T2":52,"v":0.3},{"T1":2000,"T2":60,"v":0.4},{"T1":2000,"T2":68,"v":0.6},{"T1":2000,"T2":76,"v":0.7},{"T1":2000,"T2":84,"v":0.6},{"T1":2000,"T2":92,"v":0.7},{"T1":2000,"T2":100,"v":1.1},{"T1":2000,"T2":108,"v":0.8},{"T1":2000,"T2":116,"v":1.3},{"T1":2000,"T2":124,"v":0.9},{"T1":2000,"T2":132,"v":1.2},{"T1":2000,"T2":140,"v":0.9},{"T1":2000,"T2":148,"v":1.5},{"T1":2000,"T2":156,"v":1.2},{"T1":2000,"T2":164,"v":1.0},{"T1":2000,"T2":172,"v":1.2},{"T1":2000,"T2":180,"v":1.3},{"T1":2000,"T2":188,"v":0.7},{"T1":2000,"T2":196,"v":1.5},{"T1":2000,"T2":204,"v":0.8},{"T1":2000,"T2":212,"v":2.7},
{"T1":1750,"T2":20,"v":0.1},{"T1":1750,"T2":28,"v":0.2},{"T1":1750,"T2":36,"v":0.2},{"T1":1750,"T2":44,"v":0.3},{"T1":1750,"T2":52,"v":0.3},{"T1":1750,"T2":60,"v":0.4},{"T1":1750,"T2":68,"v":0.5},{"T1":1750,"T2":76,"v":0.7},{"T1":1750,"T2":84,"v":0.6},{"T1":1750,"T2":92,"v":0.8},{"T1":1750,"T2":100,"v":0.7},{"T1":1750,"T2":108,"v":1.0},{"T1":1750,"T2":116,"v":1.1},{"T1":1750,"T2":124,"v":0.9},{"T1":1750,"T2":132,"v":1.0},{"T1":1750,"T2":140,"v":1.4},{"T1":1750,"T2":148,"v":1.0},{"T1":1750,"T2":156,"v":1.4},{"T1":1750,"T2":164,"v":1.1},{"T1":1750,"T2":172,"v":1.6},{"T1":1750,"T2":180,"v":2.1},{"T1":1750,"T2":188,"v":1.3},{"T1":1750,"T2":196,"v":1.6},{"T1":1750,"T2":204,"v":0.9},{"T1":1750,"T2":212,"v":1.9},
{"T1":1500,"T2":20,"v":0.1},{"T1":1500,"T2":28,"v":0.2},{"T1":1500,"T2":36,"v":0.2},{"T1":1500,"T2":44,"v":0.3},{"T1":1500,"T2":52,"v":0.3},{"T1":1500,"T2":60,"v":0.4},{"T1":1500,"T2":68,"v":0.5},{"T1":1500,"T2":76,"v":0.6},{"T1":1500,"T2":84,"v":0.8},{"T1":1500,"T2":92,"v":0.6},{"T1":1500,"T2":100,"v":0.9},{"T1":1500,"T2":108,"v":1.2},{"T1":1500,"T2":116,"v":1.0},{"T1":1500,"T2":124,"v":1.3},{"T1":1500,"T2":132,"v":0.9},{"T1":1500,"T2":140,"v":1.1},{"T1":1500,"T2":148,"v":1.5},{"T1":1500,"T2":156,"v":1.2},{"T1":1500,"T2":164,"v":1.7},{"T1":1500,"T2":172,"v":1.2},{"T1":1500,"T2":180,"v":1.0},{"T1":1500,"T2":188,"v":1.6},{"T1":1500,"T2":196,"v":1.4},{"T1":1500,"T2":204,"v":1.8},{"T1":1500,"T2":212,"v":1.4},
{"T1":1250,"T2":20,"v":0.1},{"T1":1250,"T2":28,"v":0.2},{"T1":1250,"T2":36,"v":0.2},{"T1":1250,"T2":44,"v":0.3},{"T1":1250,"T2":52,"v":0.3},{"T1":1250,"T2":60,"v":0.4},{"T1":1250,"T2":68,"v":0.5},{"T1":1250,"T2":76,"v":0.7},{"T1":1250,"T2":84,"v":0.6},{"T1":1250,"T2":92,"v":0.8},{"T1":1250,"T2":100,"v":0.7},{"T1":1250,"T2":108,"v":0.9},{"T1":1250,"T2":116,"v":1.0},{"T1":1250,"T2":124,"v":1.2},{"T1":1250,"T2":132,"v":0.9},{"T1":1250,"T2":140,"v":1.1},{"T1":1250,"T2":148,"v":1.4},{"T1":1250,"T2":156,"v":1.1},{"T1":1250,"T2":164,"v":1.5},{"T1":1250,"T2":172,"v":1.3},{"T1":1250,"T2":180,"v":2.4},{"T1":1250,"T2":188,"v":1.5},{"T1":1250,"T2":196,"v":1.8},{"T1":1250,"T2":204,"v":1.4},{"T1":1250,"T2":212,"v":1.7},
{"T1":1000,"T2":20,"v":0.1},{"T1":1000,"T2":28,"v":0.2},{"T1":1000,"T2":36,"v":0.2},{"T1":1000,"T2":44,"v":0.3},{"T1":1000,"T2":52,"v":0.3},{"T1":1000,"T2":60,"v":0.4},{"T1":1000,"T2":68,"v":0.5},{"T1":1000,"T2":76,"v":0.7},{"T1":1000,"T2":84,"v":0.8},{"T1":1000,"T2":92,"v":0.7},{"T1":1000,"T2":100,"v":1.0},{"T1":1000,"T2":108,"v":1.3},{"T1":1000,"T2":116,"v":0.9},{"T1":1000,"T2":124,"v":1.3},{"T1":1000,"T2":132,"v":1.0},{"T1":1000,"T2":140,"v":1.4},{"T1":1000,"T2":148,"v":1.2},{"T1":1000,"T2":156,"v":1.6},{"T1":1000,"T2":164,"v":1.1},{"T1":1000,"T2":172,"v":1.8},{"T1":1000,"T2":180,"v":1.0},{"T1":1000,"T2":188,"v":1.6},{"T1":1000,"T2":196,"v":1.3},{"T1":1000,"T2":204,"v":2.1},{"T1":1000,"T2":212,"v":1.9},
{"T1":850,"T2":20,"v":0.1},{"T1":850,"T2":28,"v":0.2},{"T1":850,"T2":36,"v":0.2},{"T1":850,"T2":44,"v":0.3},{"T1":850,"T2":52,"v":0.3},{"T1":850,"T2":60,"v":0.5},{"T1":850,"T2":68,"v":0.5},{"T1":850,"T2":76,"v":0.6},{"T1":850,"T2":84,"v":0.9},{"T1":850,"T2":92,"v":0.7},{"T1":850,"T2":100,"v":1.1},{"T1":850,"T2":108,"v":0.8},{"T1":850,"T2":116,"v":1.1},{"T1":850,"T2":124,"v":0.7},{"T1":850,"T2":132,"v":1.0},{"T1":850,"T2":140,"v":0.7},{"T1":850,"T2":148,"v":1.5},{"T1":850,"T2":156,"v":1.3},{"T1":850,"T2":164,"v":2.0},{"T1":850,"T2":172,"v":1.5},{"T1":850,"T2":180,"v":1.4},{"T1":850,"T2":188,"v":1.3},{"T1":850,"T2":196,"v":1.8},{"T1":850,"T2":204,"v":2.6},{"T1":850,"T2":212,"v":1.7},
{"T1":700,"T2":20,"v":0.1},{"T1":700,"T2":28,"v":0.2},{"T1":700,"T2":36,"v":0.2},{"T1":700,"T2":44,"v":0.3},{"T1":700,"T2":52,"v":0.3},{"T1":700,"T2":60,"v":0.4},{"T1":700,"T2":68,"v":0.5},{"T1":700,"T2":76,"v":0.6},{"T1":700,"T2":84,"v":0.7},{"T1":700,"T2":92,"v":0.8},{"T1":700,"T2":100,"v":0.7},{"T1":700,"T2":108,"v":1.2},{"T1":700,"T2":116,"v":1.0},{"T1":700,"T2":124,"v":0.8},{"T1":700,"T2":132,"v":1.5},{"T1":700,"T2":140,"v":1.2},{"T1":700,"T2":148,"v":1.7},{"T1":700,"T2":156,"v":1.1},{"T1":700,"T2":164,"v":1.8},{"T1":700,"T2":172,"v":0.9},{"T1":700,"T2":180,"v":1.2},{"T1":700,"T2":188,"v":1.5},{"T1":700,"T2":196,"v":1.3},{"T1":700,"T2":204,"v":2.2},{"T1":700,"T2":212,"v":1.5},
{"T1":500,"T2":20,"v":0.1},{"T1":500,"T2":28,"v":0.2},{"T1":500,"T2":36,"v":0.2},{"T1":500,"T2":44,"v":0.3},{"T1":500,"T2":52,"v":0.3},{"T1":500,"T2":60,"v":0.4},{"T1":500,"T2":68,"v":0.6},{"T1":500,"T2":76,"v":0.6},{"T1":500,"T2":84,"v":0.7},{"T1":500,"T2":92,"v":0.7},{"T1":500,"T2":100,"v":0.8},{"T1":500,"T2":108,"v":0.9},{"T1":500,"T2":116,"v":1.0},{"T1":500,"T2":124,"v":0.8},{"T1":500,"T2":132,"v":0.9},{"T1":500,"T2":140,"v":1.5},{"T1":500,"T2":148,"v":1.3},{"T1":500,"T2":156,"v":1.2},{"T1":500,"T2":164,"v":1.0},{"T1":500,"T2":172,"v":1.6},{"T1":500,"T2":180,"v":1.4},{"T1":500,"T2":188,"v":1.9},{"T1":500,"T2":196,"v":1.7},{"T1":500,"T2":204,"v":1.4},{"T1":500,"T2":212,"v":1.5}],
"b3s":[{"T1":2500,"T2":20,"v":0.2},{"T1":2500,"T2":28,"v":0.3},{"T1":2500,"T2":36,"v":0.4},{"T1":2500,"T2":44,"v":0.7},{"T1":2500,"T2":52,"v":0.8},{"T1":2500,"T2":60,"v":1.0},{"T1":2500,"T2":68,"v":0.9},{"T1":2500,"T2":76,"v":1.1},{"T1":2500,"T2":84,"v":1.0},{"T1":2500,"T2":92,"v":2.0},{"T1":2500,"T2":100,"v":0.8},{"T1":2500,"T2":108,"v":1.2},{"T1":2500,"T2":116,"v":1.3},{"T1":2500,"T2":124,"v":1.1},{"T1":2500,"T2":132,"v":1.5},{"T1":2500,"T2":140,"v":1.6},{"T1":2500,"T2":148,"v":1.4},{"T1":2500,"T2":156,"v":2.0},{"T1":2500,"T2":164,"v":1.9},{"T1":2500,"T2":172,"v":2.2},{"T1":2500,"T2":180,"v":3.2},{"T1":2500,"T2":188,"v":2.0},{"T1":2500,"T2":196,"v":1.0},{"T1":2500,"T2":204,"v":3.0},{"T1":2500,"T2":212,"v":3.4},
{"T1":2000,"T2":20,"v":0.2},{"T1":2000,"T2":28,"v":0.3},{"T1":2000,"T2":36,"v":0.5},{"T1":2000,"T2":44,"v":0.8},{"T1":2000,"T2":52,"v":0.9},{"T1":2000,"T2":60,"v":1.0},{"T1":2000,"T2":68,"v":1.1},{"T1":2000,"T2":76,"v":1.3},{"T1":2000,"T2":84,"v":1.7},{"T1":2000,"T2":92,"v":1.2},{"T1":2000,"T2":100,"v":1.5},{"T1":2000,"T2":108,"v":1.6},{"T1":2000,"T2":116,"v":1.3},{"T1":2000,"T2":124,"v":1.2},{"T1":2000,"T2":132,"v":1.9},{"T1":2000,"T2":140,"v":1.4},{"T1":2000,"T2":148,"v":1.6},{"T1":2000,"T2":156,"v":1.8},{"T1":2000,"T2":164,"v":2.4},{"T1":2000,"T2":172,"v":1.7},{"T1":2000,"T2":180,"v":2.2},{"T1":2000,"T2":188,"v":1.5},{"T1":2000,"T2":196,"v":3.6},{"T1":2000,"T2":204,"v":2.4},{"T1":2000,"T2":212,"v":4.4},
{"T1":1750,"T2":20,"v":0.2},{"T1":1750,"T2":28,"v":0.3},{"T1":1750,"T2":36,"v":0.5},{"T1":1750,"T2":44,"v":0.7},{"T1":1750,"T2":52,"v":0.8},{"T1":1750,"T2":60,"v":0.7},{"T1":1750,"T2":68,"v":1.0},{"T1":1750,"T2":76,"v":1.1},{"T1":1750,"T2":84,"v":1.3},{"T1":1750,"T2":92,"v":1.2},{"T1":1750,"T2":100,"v":1.0},{"T1":1750,"T2":108,"v":1.4},{"T1":1750,"T2":116,"v":1.5},{"T1":1750,"T2":124,"v":1.2},{"T1":1750,"T2":132,"v":1.9},{"T1":1750,"T2":140,"v":1.3},{"T1":1750,"T2":148,"v":2.0},{"T1":1750,"T2":156,"v":1.7},{"T1":1750,"T2":164,"v":2.3},{"T1":1750,"T2":172,"v":2.5},{"T1":1750,"T2":180,"v":3.9},{"T1":1750,"T2":188,"v":2.2},{"T1":1750,"T2":196,"v":3.8},{"T1":1750,"T2":204,"v":2.1},{"T1":1750,"T2":212,"v":2.6},
{"T1":1500,"T2":20,"v":0.2},{"T1":1500,"T2":28,"v":0.3},{"T1":1500,"T2":36,"v":0.4},{"T1":1500,"T2":44,"v":0.7},{"T1":1500,"T2":52,"v":0.7},{"T1":1500,"T2":60,"v":0.9},{"T1":1500,"T2":68,"v":1.1},{"T1":1500,"T2":76,"v":1.3},{"T1":1500,"T2":84,"v":1.2},{"T1":1500,"T2":92,"v":1.0},{"T1":1500,"T2":100,"v":1.4},{"T1":1500,"T2":108,"v":1.5},{"T1":1500,"T2":116,"v":1.3},{"T1":1500,"T2":124,"v":1.6},{"T1":1500,"T2":132,"v":1.1},{"T1":1500,"T2":140,"v":1.7},{"T1":1500,"T2":148,"v":1.5},{"T1":1500,"T2":156,"v":2.4},{"T1":1500,"T2":164,"v":4.2},{"T1":1500,"T2":172,"v":1.2},{"T1":1500,"T2":180,"v":2.8},{"T1":1500,"T2":188,"v":3.0},{"T1":1500,"T2":196,"v":1.8},{"T1":1500,"T2":204,"v":5.0},{"T1":1500,"T2":212,"v":3.0},
{"T1":1250,"T2":20,"v":0.2},{"T1":1250,"T2":28,"v":0.3},{"T1":1250,"T2":36,"v":0.4},{"T1":1250,"T2":44,"v":0.5},{"T1":1250,"T2":52,"v":0.9},{"T1":1250,"T2":60,"v":1.1},{"T1":1250,"T2":68,"v":1.0},{"T1":1250,"T2":76,"v":1.4},{"T1":1250,"T2":84,"v":1.3},{"T1":1250,"T2":92,"v":1.5},{"T1":1250,"T2":100,"v":1.1},{"T1":1250,"T2":108,"v":1.3},{"T1":1250,"T2":116,"v":0.8},{"T1":1250,"T2":124,"v":2.6},{"T1":1250,"T2":132,"v":2.2},{"T1":1250,"T2":140,"v":1.6},{"T1":1250,"T2":148,"v":4.2},{"T1":1250,"T2":156,"v":2.0},{"T1":1250,"T2":164,"v":2.6},{"T1":1250,"T2":172,"v":1.4},{"T1":1250,"T2":180,"v":5.2},{"T1":1250,"T2":188,"v":2.2},{"T1":1250,"T2":196,"v":1.0},{"T1":1250,"T2":204,"v":3.2},{"T1":1250,"T2":212,"v":4.0},
{"T1":1000,"T2":20,"v":0.2},{"T1":1000,"T2":28,"v":0.3},{"T1":1000,"T2":36,"v":0.5},{"T1":1000,"T2":44,"v":0.8},{"T1":1000,"T2":52,"v":2.4},{"T1":1000,"T2":60,"v":1.0},{"T1":1000,"T2":68,"v":1.7},{"T1":1000,"T2":76,"v":1.5},{"T1":1000,"T2":84,"v":1.2},{"T1":1000,"T2":92,"v":1.6},{"T1":1000,"T2":100,"v":1.3},{"T1":1000,"T2":108,"v":1.8},{"T1":1000,"T2":116,"v":1.5},{"T1":1000,"T2":124,"v":2.0},{"T1":1000,"T2":132,"v":1.3},{"T1":1000,"T2":140,"v":1.6},{"T1":1000,"T2":148,"v":1.8},{"T1":1000,"T2":156,"v":1.1},{"T1":1000,"T2":164,"v":2.4},{"T1":1000,"T2":172,"v":1.7},{"T1":1000,"T2":180,"v":2.0},{"T1":1000,"T2":188,"v":3.2},{"T1":1000,"T2":196,"v":4.4},{"T1":1000,"T2":204,"v":3.8},{"T1":1000,"T2":212,"v":4.8},
{"T1":850,"T2":20,"v":0.2},{"T1":850,"T2":28,"v":0.3},{"T1":850,"T2":36,"v":0.6},{"T1":850,"T2":44,"v":0.9},{"T1":850,"T2":52,"v":1.1},{"T1":850,"T2":60,"v":1.4},{"T1":850,"T2":68,"v":0.8},{"T1":850,"T2":76,"v":1.3},{"T1":850,"T2":84,"v":1.5},{"T1":850,"T2":92,"v":1.0},{"T1":850,"T2":100,"v":1.2},{"T1":850,"T2":108,"v":1.0},{"T1":850,"T2":116,"v":1.3},{"T1":850,"T2":124,"v":1.1},{"T1":850,"T2":132,"v":1.4},{"T1":850,"T2":140,"v":4.4},{"T1":850,"T2":148,"v":1.2},{"T1":850,"T2":156,"v":2.4},{"T1":850,"T2":164,"v":1.8},{"T1":850,"T2":172,"v":4.0},{"T1":850,"T2":180,"v":3.6},{"T1":850,"T2":188,"v":2.3},{"T1":850,"T2":196,"v":2.9},{"T1":850,"T2":204,"v":3.5},{"T1":850,"T2":212,"v":4.9},
{"T1":700,"T2":20,"v":0.2},{"T1":700,"T2":28,"v":0.3},{"T1":700,"T2":36,"v":0.6},{"T1":700,"T2":44,"v":0.9},{"T1":700,"T2":52,"v":1.2},{"T1":700,"T2":60,"v":1.1},{"T1":700,"T2":68,"v":1.3},{"T1":700,"T2":76,"v":1.7},{"T1":700,"T2":84,"v":1.0},{"T1":700,"T2":92,"v":1.5},{"T1":700,"T2":100,"v":1.4},{"T1":700,"T2":108,"v":1.9},{"T1":700,"T2":116,"v":1.1},{"T1":700,"T2":124,"v":1.3},{"T1":700,"T2":132,"v":4.6},{"T1":700,"T2":140,"v":2.0},{"T1":700,"T2":148,"v":3.8},{"T1":700,"T2":156,"v":4.3},{"T1":700,"T2":164,"v":2.5},{"T1":700,"T2":172,"v":1.0},{"T1":700,"T2":180,"v":2.6},{"T1":700,"T2":188,"v":3.2},{"T1":700,"T2":196,"v":2.8},{"T1":700,"T2":204,"v":3.4},{"T1":700,"T2":212,"v":3.0},
{"T1":500,"T2":20,"v":0.2},{"T1":500,"T2":28,"v":0.3},{"T1":500,"T2":36,"v":0.5},{"T1":500,"T2":44,"v":1.0},{"T1":500,"T2":52,"v":1.1},{"T1":500,"T2":60,"v":1.5},{"T1":500,"T2":68,"v":1.8},{"T1":500,"T2":76,"v":2.3},{"T1":500,"T2":84,"v":1.7},{"T1":500,"T2":92,"v":1.2},{"T1":500,"T2":100,"v":1.0},{"T1":500,"T2":108,"v":2.2},{"T1":500,"T2":116,"v":1.4},{"T1":500,"T2":124,"v":1.9},{"T1":500,"T2":132,"v":2.2},{"T1":500,"T2":140,"v":1.8},{"T1":500,"T2":148,"v":3.2},{"T1":500,"T2":156,"v":2.5},{"T1":500,"T2":164,"v":3.0},{"T1":500,"T2":172,"v":3.4},{"T1":500,"T2":180,"v":2.6},{"T1":500,"T2":188,"v":5.3},{"T1":500,"T2":196,"v":2.3},{"T1":500,"T2":204,"v":1.0},{"T1":500,"T2":212,"v":1.6}],
"b2s":[{"T1":2500,"T2":20,"v":0.1},{"T1":2500,"T2":28,"v":0.2},{"T1":2500,"T2":36,"v":0.2},{"T1":2500,"T2":44,"v":0.3},{"T1":2500,"T2":52,"v":0.3},{"T1":2500,"T2":60,"v":0.4},{"T1":2500,"T2":68,"v":0.5},{"T1":2500,"T2":76,"v":0.6},{"T1":2500,"T2":84,"v":0.6},{"T1":2500,"T2":92,"v":0.7},{"T1":2500,"T2":100,"v":0.8},{"T1":2500,"T2":108,"v":1.0},{"T1":2500,"T2":116,"v":1.1},{"T1":2500,"T2":124,"v":1.0},{"T1":2500,"T2":132,"v":1.1},{"T1":2500,"T2":140,"v":1.4},{"T1":2500,"T2":148,"v":1.3},{"T1":2500,"T2":156,"v":1.3},{"T1":2500,"T2":164,"v":1.6},{"T1":2500,"T2":172,"v":1.4},{"T1":2500,"T2":180,"v":1.6},{"T1":2500,"T2":188,"v":1.8},{"T1":2500,"T2":196,"v":1.3},{"T1":2500,"T2":204,"v":1.9},{"T1":2500,"T2":212,"v":1.8},
{"T1":2000,"T2":20,"v":0.1},{"T1":2000,"T2":28,"v":0.2},{"T1":2000,"T2":36,"v":0.2},{"T1":2000,"T2":44,"v":0.3},{"T1":2000,"T2":52,"v":0.3},{"T1":2000,"T2":60,"v":0.4},{"T1":2000,"T2":68,"v":0.5},{"T1":2000,"T2":76,"v":0.6},{"T1":2000,"T2":84,"v":0.7},{"T1":2000,"T2":92,"v":0.9},{"T1":2000,"T2":100,"v":0.7},{"T1":2000,"T2":108,"v":1.1},{"T1":2000,"T2":116,"v":0.8},{"T1":2000,"T2":124,"v":1.0},{"T1":2000,"T2":132,"v":1.2},{"T1":2000,"T2":140,"v":0.9},{"T1":2000,"T2":148,"v":1.3},{"T1":2000,"T2":156,"v":1.1},{"T1":2000,"T2":164,"v":1.2},{"T1":2000,"T2":172,"v":1.0},{"T1":2000,"T2":180,"v":1.5},{"T1":2000,"T2":188,"v":0.9},{"T1":2000,"T2":196,"v":1.6},{"T1":2000,"T2":204,"v":1.8},{"T1":2000,"T2":212,"v":1.4},
{"T1":1750,"T2":20,"v":0.1},{"T1":1750,"T2":28,"v":0.2},{"T1":1750,"T2":36,"v":0.2},{"T1":1750,"T2":44,"v":0.3},{"T1":1750,"T2":52,"v":0.3},{"T1":1750,"T2":60,"v":0.4},{"T1":1750,"T2":68,"v":0.5},{"T1":1750,"T2":76,"v":0.6},{"T1":1750,"T2":84,"v":0.6},{"T1":1750,"T2":92,"v":0.7},{"T1":1750,"T2":100,"v":0.9},{"T1":1750,"T2":108,"v":0.8},{"T1":1750,"T2":116,"v":1.0},{"T1":1750,"T2":124,"v":1.2},{"T1":1750,"T2":132,"v":0.9},{"T1":1750,"T2":140,"v":1.3},{"T1":1750,"T2":148,"v":1.0},{"T1":1750,"T2":156,"v":1.4},{"T1":1750,"T2":164,"v":1.1},{"T1":1750,"T2":172,"v":1.5},{"T1":1750,"T2":180,"v":1.7},{"T1":1750,"T2":188,"v":1.2},{"T1":1750,"T2":196,"v":1.6},{"T1":1750,"T2":204,"v":1.1},{"T1":1750,"T2":212,"v":1.8},
{"T1":1500,"T2":20,"v":0.1},{"T1":1500,"T2":28,"v":0.2},{"T1":1500,"T2":36,"v":0.2},{"T1":1500,"T2":44,"v":0.3},{"T1":1500,"T2":52,"v":0.3},{"T1":1500,"T2":60,"v":0.4},{"T1":1500,"T2":68,"v":0.5},{"T1":1500,"T2":76,"v":0.6},{"T1":1500,"T2":84,"v":0.7},{"T1":1500,"T2":92,"v":0.6},{"T1":1500,"T2":100,"v":0.9},{"T1":1500,"T2":108,"v":1.1},{"T1":1500,"T2":116,"v":0.8},{"T1":1500,"T2":124,"v":1.2},{"T1":1500,"T2":132,"v":1.0},{"T1":1500,"T2":140,"v":1.3},{"T1":1500,"T2":148,"v":0.9},{"T1":1500,"T2":156,"v":1.2},{"T1":1500,"T2":164,"v":1.5},{"T1":1500,"T2":172,"v":1.1},{"T1":1500,"T2":180,"v":1.4},{"T1":1500,"T2":188,"v":1.6},{"T1":1500,"T2":196,"v":1.2},{"T1":1500,"T2":204,"v":1.7},{"T1":1500,"T2":212,"v":1.5},
{"T1":1250,"T2":20,"v":0.1},{"T1":1250,"T2":28,"v":0.2},{"T1":1250,"T2":36,"v":0.2},{"T1":1250,"T2":44,"v":0.3},{"T1":1250,"T2":52,"v":0.3},{"T1":1250,"T2":60,"v":0.4},{"T1":1250,"T2":68,"v":0.5},{"T1":1250,"T2":76,"v":0.6},{"T1":1250,"T2":84,"v":0.6},{"T1":1250,"T2":92,"v":0.8},{"T1":1250,"T2":100,"v":0.7},{"T1":1250,"T2":108,"v":0.9},{"T1":1250,"T2":116,"v":1.0},{"T1":1250,"T2":124,"v":1.1},{"T1":1250,"T2":132,"v":0.8},{"T1":1250,"T2":140,"v":1.2},{"T1":1250,"T2":148,"v":1.3},{"T1":1250,"T2":156,"v":1.0},{"T1":1250,"T2":164,"v":1.4},{"T1":1250,"T2":172,"v":1.2},{"T1":1250,"T2":180,"v":1.9},{"T1":1250,"T2":188,"v":1.3},{"T1":1250,"T2":196,"v":1.6},{"T1":1250,"T2":204,"v":1.2},{"T1":1250,"T2":212,"v":1.6},
{"T1":1000,"T2":20,"v":0.1},{"T1":1000,"T2":28,"v":0.2},{"T1":1000,"T2":36,"v":0.2},{"T1":1000,"T2":44,"v":0.3},{"T1":1000,"T2":52,"v":0.3},{"T1":1000,"T2":60,"v":0.4},{"T1":1000,"T2":68,"v":0.5},{"T1":1000,"T2":76,"v":0.6},{"T1":1000,"T2":84,"v":0.7},{"T1":1000,"T2":92,"v":0.7},{"T1":1000,"T2":100,"v":1.0},{"T1":1000,"T2":108,"v":1.1},{"T1":1000,"T2":116,"v":0.8},{"T1":1000,"T2":124,"v":1.2},{"T1":1000,"T2":132,"v":1.0},{"T1":1000,"T2":140,"v":1.3},{"T1":1000,"T2":148,"v":1.1},{"T1":1000,"T2":156,"v":1.4},{"T1":1000,"T2":164,"v":1.0},{"T1":1000,"T2":172,"v":1.5},{"T1":1000,"T2":180,"v":1.1},{"T1":1000,"T2":188,"v":1.4},{"T1":1000,"T2":196,"v":1.3},{"T1":1000,"T2":204,"v":1.9},{"T1":1000,"T2":212,"v":1.7},
{"T1":850,"T2":20,"v":0.1},{"T1":850,"T2":28,"v":0.2},{"T1":850,"T2":36,"v":0.2},{"T1":850,"T2":44,"v":0.3},{"T1":850,"T2":52,"v":0.3},{"T1":850,"T2":60,"v":0.4},{"T1":850,"T2":68,"v":0.5},{"T1":850,"T2":76,"v":0.6},{"T1":850,"T2":84,"v":0.8},{"T1":850,"T2":92,"v":0.7},{"T1":850,"T2":100,"v":0.9},{"T1":850,"T2":108,"v":0.8},{"T1":850,"T2":116,"v":1.0},{"T1":850,"T2":124,"v":0.7},{"T1":850,"T2":132,"v":1.1},{"T1":850,"T2":140,"v":0.8},{"T1":850,"T2":148,"v":1.4},{"T1":850,"T2":156,"v":1.2},{"T1":850,"T2":164,"v":1.7},{"T1":850,"T2":172,"v":1.3},{"T1":850,"T2":180,"v":1.2},{"T1":850,"T2":188,"v":1.3},{"T1":850,"T2":196,"v":1.6},{"T1":850,"T2":204,"v":2.2},{"T1":850,"T2":212,"v":1.6},
{"T1":700,"T2":20,"v":0.1},{"T1":700,"T2":28,"v":0.2},{"T1":700,"T2":36,"v":0.2},{"T1":700,"T2":44,"v":0.3},{"T1":700,"T2":52,"v":0.3},{"T1":700,"T2":60,"v":0.4},{"T1":700,"T2":68,"v":0.5},{"T1":700,"T2":76,"v":0.6},{"T1":700,"T2":84,"v":0.7},{"T1":700,"T2":92,"v":0.7},{"T1":700,"T2":100,"v":0.7},{"T1":700,"T2":108,"v":1.1},{"T1":700,"T2":116,"v":0.9},{"T1":700,"T2":124,"v":0.8},{"T1":700,"T2":132,"v":1.3},{"T1":700,"T2":140,"v":1.0},{"T1":700,"T2":148,"v":1.4},{"T1":700,"T2":156,"v":1.1},{"T1":700,"T2":164,"v":1.6},{"T1":700,"T2":172,"v":0.9},{"T1":700,"T2":180,"v":1.3},{"T1":700,"T2":188,"v":1.5},{"T1":700,"T2":196,"v":1.2},{"T1":700,"T2":204,"v":1.8},{"T1":700,"T2":212,"v":1.4},
{"T1":500,"T2":20,"v":0.1},{"T1":500,"T2":28,"v":0.2},{"T1":500,"T2":36,"v":0.2},{"T1":500,"T2":44,"v":0.3},{"T1":500,"T2":52,"v":0.3},{"T1":500,"T2":60,"v":0.4},{"T1":500,"T2":68,"v":0.5},{"T1":500,"T2":76,"v":0.6},{"T1":500,"T2":84,"v":0.6},{"T1":500,"T2":92,"v":0.7},{"T1":500,"T2":100,"v":0.8},{"T1":500,"T2":108,"v":0.8},{"T1":500,"T2":116,"v":1.0},{"T1":500,"T2":124,"v":0.8},{"T1":500,"T2":132,"v":0.9},{"T1":500,"T2":140,"v":1.3},{"T1":500,"T2":148,"v":1.2},{"T1":500,"T2":156,"v":1.1},{"T1":500,"T2":164,"v":1.0},{"T1":500,"T2":172,"v":1.4},{"T1":500,"T2":180,"v":1.3},{"T1":500,"T2":188,"v":1.6},{"T1":500,"T2":196,"v":1.5},{"T1":500,"T2":204,"v":1.2},{"T1":500,"T2":212,"v":1.4}],
"c3s":[{"T1":2500,"T2":20,"v":0.2},{"T1":2500,"T2":28,"v":0.3},{"T1":2500,"T2":36,"v":0.5},{"T1":2500,"T2":44,"v":0.7},{"T1":2500,"T2":52,"v":0.8},{"T1":2500,"T2":60,"v":0.9},{"T1":2500,"T2":68,"v":1.0},{"T1":2500,"T2":76,"v":0.8},{"T1":2500,"T2":84,"v":1.0},{"T1":2500,"T2":92,"v":1.1},{"T1":2500,"T2":100,"v":0.9},{"T1":2500,"T2":108,"v":1.2},{"T1":2500,"T2":116,"v":1.0},{"T1":2500,"T2":124,"v":1.3},{"T1":2500,"T2":132,"v":1.5},{"T1":2500,"T2":140,"v":1.2},{"T1":2500,"T2":148,"v":2.0},{"T1":2500,"T2":156,"v":1.4},{"T1":2500,"T2":164,"v":1.5},{"T1":2500,"T2":172,"v":1.2},{"T1":2500,"T2":180,"v":2.0},{"T1":2500,"T2":188,"v":2.2},{"T1":2500,"T2":196,"v":1.9},{"T1":2500,"T2":204,"v":2.3},{"T1":2500,"T2":212,"v":1.6},
{"T1":2000,"T2":20,"v":0.2},{"T1":2000,"T2":28,"v":0.3},{"T1":2000,"T2":36,"v":0.4},{"T1":2000,"T2":44,"v":0.6},{"T1":2000,"T2":52,"v":0.9},{"T1":2000,"T2":60,"v":1.1},{"T1":2000,"T2":68,"v":0.9},{"T1":2000,"T2":76,"v":0.8},{"T1":2000,"T2":84,"v":1.3},{"T1":2000,"T2":92,"v":1.0},{"T1":2000,"T2":100,"v":1.3},{"T1":2000,"T2":108,"v":0.9},{"T1":2000,"T2":116,"v":1.2},{"T1":2000,"T2":124,"v":0.9},{"T1":2000,"T2":132,"v":1.1},{"T1":2000,"T2":140,"v":1.3},{"T1":2000,"T2":148,"v":1.5},{"T1":2000,"T2":156,"v":1.1},{"T1":2000,"T2":164,"v":2.3},{"T1":2000,"T2":172,"v":1.6},{"T1":2000,"T2":180,"v":1.3},{"T1":2000,"T2":188,"v":1.0},{"T1":2000,"T2":196,"v":1.5},{"T1":2000,"T2":204,"v":1.2},{"T1":2000,"T2":212,"v":2.8},
{"T1":1750,"T2":20,"v":0.2},{"T1":1750,"T2":28,"v":0.3},{"T1":1750,"T2":36,"v":0.5},{"T1":1750,"T2":44,"v":0.7},{"T1":1750,"T2":52,"v":0.7},{"T1":1750,"T2":60,"v":0.8},{"T1":1750,"T2":68,"v":0.9},{"T1":1750,"T2":76,"v":0.9},{"T1":1750,"T2":84,"v":1.1},{"T1":1750,"T2":92,"v":0.8},{"T1":1750,"T2":100,"v":1.2},{"T1":1750,"T2":108,"v":1.3},{"T1":1750,"T2":116,"v":1.0},{"T1":1750,"T2":124,"v":1.5},{"T1":1750,"T2":132,"v":1.2},{"T1":1750,"T2":140,"v":1.9},{"T1":1750,"T2":148,"v":1.9},{"T1":1750,"T2":156,"v":1.4},{"T1":1750,"T2":164,"v":1.6},{"T1":1750,"T2":172,"v":1.9},{"T1":1750,"T2":180,"v":1.4},{"T1":1750,"T2":188,"v":1.2},{"T1":1750,"T2":196,"v":1.8},{"T1":1750,"T2":204,"v":1.6},{"T1":1750,"T2":212,"v":0.9},
{"T1":1500,"T2":20,"v":0.2},{"T1":1500,"T2":28,"v":0.3},{"T1":1500,"T2":36,"v":0.4},{"T1":1500,"T2":44,"v":0.6},{"T1":1500,"T2":52,"v":0.8},{"T1":1500,"T2":60,"v":0.8},{"T1":1500,"T2":68,"v":1.3},{"T1":1500,"T2":76,"v":0.9},{"T1":1500,"T2":84,"v":1.0},{"T1":1500,"T2":92,"v":1.2},{"T1":1500,"T2":100,"v":0.8},{"T1":1500,"T2":108,"v":1.3},{"T1":1500,"T2":116,"v":1.1},{"T1":1500,"T2":124,"v":1.0},{"T1":1500,"T2":132,"v":1.4},{"T1":1500,"T2":140,"v":1.2},{"T1":1500,"T2":148,"v":1.6},{"T1":1500,"T2":156,"v":1.2},{"T1":1500,"T2":164,"v":1.9},{"T1":1500,"T2":172,"v":1.5},{"T1":1500,"T2":180,"v":1.3},{"T1":1500,"T2":188,"v":1.7},{"T1":1500,"T2":196,"v":1.4},{"T1":1500,"T2":204,"v":1.3},{"T1":1500,"T2":212,"v":2.2},
{"T1":1250,"T2":20,"v":0.2},{"T1":1250,"T2":28,"v":0.3},{"T1":1250,"T2":36,"v":0.4},{"T1":1250,"T2":44,"v":0.6},{"T1":1250,"T2":52,"v":0.9},{"T1":1250,"T2":60,"v":1.0},{"T1":1250,"T2":68,"v":1.1},{"T1":1250,"T2":76,"v":1.2},{"T1":1250,"T2":84,"v":1.3},{"T1":1250,"T2":92,"v":1.0},{"T1":1250,"T2":100,"v":1.6},{"T1":1250,"T2":108,"v":1.3},{"T1":1250,"T2":116,"v":1.1},{"T1":1250,"T2":124,"v":1.9},{"T1":1250,"T2":132,"v":1.4},{"T1":1250,"T2":140,"v":1.2},{"T1":1250,"T2":148,"v":1.0},{"T1":1250,"T2":156,"v":2.7},{"T1":1250,"T2":164,"v":1.6},{"T1":1250,"T2":172,"v":2.0},{"T1":1250,"T2":180,"v":1.5},{"T1":1250,"T2":188,"v":1.3},{"T1":1250,"T2":196,"v":1.0},{"T1":1250,"T2":204,"v":2.2},{"T1":1250,"T2":212,"v":1.0},
{"T1":1000,"T2":20,"v":0.2},{"T1":1000,"T2":28,"v":0.3},{"T1":1000,"T2":36,"v":0.5},{"T1":1000,"T2":44,"v":0.7},{"T1":1000,"T2":52,"v":1.0},{"T1":1000,"T2":60,"v":1.7},{"T1":1000,"T2":68,"v":1.1},{"T1":1000,"T2":76,"v":1.0},{"T1":1000,"T2":84,"v":1.4},{"T1":1000,"T2":92,"v":1.5},{"T1":1000,"T2":100,"v":1.3},{"T1":1000,"T2":108,"v":1.1},{"T1":1000,"T2":116,"v":1.3},{"T1":1000,"T2":124,"v":1.2},{"T1":1000,"T2":132,"v":1.0},{"T1":1000,"T2":140,"v":0.9},{"T1":1000,"T2":148,"v":1.5},{"T1":1000,"T2":156,"v":1.1},{"T1":1000,"T2":164,"v":1.3},{"T1":1000,"T2":172,"v":1.2},{"T1":1000,"T2":180,"v":1.6},{"T1":1000,"T2":188,"v":2.0},{"T1":1000,"T2":196,"v":2.3},{"T1":1000,"T2":204,"v":2.4},{"T1":1000,"T2":212,"v":1.2},
{"T1":850,"T2":20,"v":0.2},{"T1":850,"T2":28,"v":0.3},{"T1":850,"T2":36,"v":0.9},{"T1":850,"T2":44,"v":1.1},{"T1":850,"T2":52,"v":1.0},{"T1":850,"T2":60,"v":0.9},{"T1":850,"T2":68,"v":1.1},{"T1":850,"T2":76,"v":0.9},{"T1":850,"T2":84,"v":1.2},{"T1":850,"T2":92,"v":1.0},{"T1":850,"T2":100,"v":1.3},{"T1":850,"T2":108,"v":1.1},{"T1":850,"T2":116,"v":1.0},{"T1":850,"T2":124,"v":1.4},{"T1":850,"T2":132,"v":4.0},{"T1":850,"T2":140,"v":1.5},{"T1":850,"T2":148,"v":1.2},{"T1":850,"T2":156,"v":1.9},{"T1":850,"T2":164,"v":2.0},{"T1":850,"T2":172,"v":1.6},{"T1":850,"T2":180,"v":1.3},{"T1":850,"T2":188,"v":1.8},{"T1":850,"T2":196,"v":1.5},{"T1":850,"T2":204,"v":1.3},{"T1":850,"T2":212,"v":1.1},
{"T1":700,"T2":20,"v":0.2},{"T1":700,"T2":28,"v":0.3},{"T1":700,"T2":36,"v":0.5},{"T1":700,"T2":44,"v":0.9},{"T1":700,"T2":52,"v":1.0},{"T1":700,"T2":60,"v":1.1},{"T1":700,"T2":68,"v":0.9},{"T1":700,"T2":76,"v":1.4},{"T1":700,"T2":84,"v":1.2},{"T1":700,"T2":92,"v":1.0},{"T1":700,"T2":100,"v":0.9},{"T1":700,"T2":108,"v":1.3},{"T1":700,"T2":116,"v":0.9},{"T1":700,"T2":124,"v":0.8},{"T1":700,"T2":132,"v":1.1},{"T1":700,"T2":140,"v":2.2},{"T1":700,"T2":148,"v":1.8},{"T1":700,"T2":156,"v":1.5},{"T1":700,"T2":164,"v":1.3},{"T1":700,"T2":172,"v":1.2},{"T1":700,"T2":180,"v":1.7},{"T1":700,"T2":188,"v":1.9},{"T1":700,"T2":196,"v":2.5},{"T1":700,"T2":204,"v":2.8},{"T1":700,"T2":212,"v":1.5},
{"T1":500,"T2":20,"v":0.2},{"T1":500,"T2":28,"v":0.3},{"T1":500,"T2":36,"v":0.6},{"T1":500,"T2":44,"v":1.0},{"T1":500,"T2":52,"v":0.9},{"T1":500,"T2":60,"v":1.3},{"T1":500,"T2":68,"v":1.1},{"T1":500,"T2":76,"v":1.2},{"T1":500,"T2":84,"v":1.0},{"T1":500,"T2":92,"v":1.3},{"T1":500,"T2":100,"v":1.1},{"T1":500,"T2":108,"v":0.9},{"T1":500,"T2":116,"v":1.5},{"T1":500,"T2":124,"v":2.2},{"T1":500,"T2":132,"v":1.4},{"T1":500,"T2":140,"v":1.7},{"T1":500,"T2":148,"v":2.0},{"T1":500,"T2":156,"v":1.8},{"T1":500,"T2":164,"v":1.6},{"T1":500,"T2":172,"v":1.4},{"T1":500,"T2":180,"v":2.3},{"T1":500,"T2":188,"v":1.9},{"T1":500,"T2":196,"v":1.2},{"T1":500,"T2":204,"v":1.7},{"T1":500,"T2":212,"v":1.4}],
"c2s":[{"T1":2500,"T2":20,"v":0.1},{"T1":2500,"T2":28,"v":0.2},{"T1":2500,"T2":36,"v":0.2},{"T1":2500,"T2":44,"v":0.3},{"T1":2500,"T2":52,"v":0.3},{"T1":2500,"T2":60,"v":0.4},{"T1":2500,"T2":68,"v":0.4},{"T1":2500,"T2":76,"v":0.5},{"T1":2500,"T2":84,"v":0.6},{"T1":2500,"T2":92,"v":0.6},{"T1":2500,"T2":100,"v":0.7},{"T1":2500,"T2":108,"v":1.0},{"T1":2500,"T2":116,"v":0.8},{"T1":2500,"T2":124,"v":1.1},{"T1":2500,"T2":132,"v":0.9},{"T1":2500,"T2":140,"v":1.2},{"T1":2500,"T2":148,"v":1.0},{"T1":2500,"T2":156,"v":1.3},{"T1":2500,"T2":164,"v":1.1},{"T1":2500,"T2":172,"v":1.4},{"T1":2500,"T2":180,"v":1.0},{"T1":2500,"T2":188,"v":1.3},{"T1":2500,"T2":196,"v":1.5},{"T1":2500,"T2":204,"v":1.1},{"T1":2500,"T2":212,"v":1.2},
{"T1":2000,"T2":20,"v":0.1},{"T1":2000,"T2":28,"v":0.2},{"T1":2000,"T2":36,"v":0.2},{"T1":2000,"T2":44,"v":0.3},{"T1":2000,"T2":52,"v":0.3},{"T1":2000,"T2":60,"v":0.4},{"T1":2000,"T2":68,"v":0.4},{"T1":2000,"T2":76,"v":0.5},{"T1":2000,"T2":84,"v":0.6},{"T1":2000,"T2":92,"v":0.7},{"T1":2000,"T2":100,"v":0.6},{"T1":2000,"T2":108,"v":0.9},{"T1":2000,"T2":116,"v":0.7},{"T1":2000,"T2":124,"v":0.9},{"T1":2000,"T2":132,"v":0.8},{"T1":2000,"T2":140,"v":1.1},{"T1":2000,"T2":148,"v":1.3},{"T1":2000,"T2":156,"v":0.9},{"T1":2000,"T2":164,"v":1.2},{"T1":2000,"T2":172,"v":1.0},{"T1":2000,"T2":180,"v":1.3},{"T1":2000,"T2":188,"v":1.0},{"T1":2000,"T2":196,"v":1.4},{"T1":2000,"T2":204,"v":1.1},{"T1":2000,"T2":212,"v":1.2},
{"T1":1750,"T2":20,"v":0.1},{"T1":1750,"T2":28,"v":0.2},{"T1":1750,"T2":36,"v":0.2},{"T1":1750,"T2":44,"v":0.3},{"T1":1750,"T2":52,"v":0.3},{"T1":1750,"T2":60,"v":0.4},{"T1":1750,"T2":68,"v":0.4},{"T1":1750,"T2":76,"v":0.5},{"T1":1750,"T2":84,"v":0.5},{"T1":1750,"T2":92,"v":0.6},{"T1":1750,"T2":100,"v":0.8},{"T1":1750,"T2":108,"v":0.7},{"T1":1750,"T2":116,"v":0.9},{"T1":1750,"T2":124,"v":0.7},{"T1":1750,"T2":132,"v":0.9},{"T1":1750,"T2":140,"v":1.0},{"T1":1750,"T2":148,"v":0.8},{"T1":1750,"T2":156,"v":1.2},{"T1":1750,"T2":164,"v":1.0},{"T1":1750,"T2":172,"v":1.3},{"T1":1750,"T2":180,"v":1.1},{"T1":1750,"T2":188,"v":0.9},{"T1":1750,"T2":196,"v":1.3},{"T1":1750,"T2":204,"v":1.0},{"T1":1750,"T2":212,"v":1.2},
{"T1":1500,"T2":20,"v":0.1},{"T1":1500,"T2":28,"v":0.2},{"T1":1500,"T2":36,"v":0.2},{"T1":1500,"T2":44,"v":0.3},{"T1":1500,"T2":52,"v":0.3},{"T1":1500,"T2":60,"v":0.4},{"T1":1500,"T2":68,"v":0.4},{"T1":1500,"T2":76,"v":0.5},{"T1":1500,"T2":84,"v":0.6},{"T1":1500,"T2":92,"v":0.6},{"T1":1500,"T2":100,"v":0.7},{"T1":1500,"T2":108,"v":0.8},{"T1":1500,"T2":116,"v":0.6},{"T1":1500,"T2":124,"v":1.0},{"T1":1500,"T2":132,"v":0.8},{"T1":1500,"T2":140,"v":1.1},{"T1":1500,"T2":148,"v":0.8},{"T1":1500,"T2":156,"v":1.0},{"T1":1500,"T2":164,"v":1.2},{"T1":1500,"T2":172,"v":0.9},{"T1":1500,"T2":180,"v":1.1},{"T1":1500,"T2":188,"v":1.3},{"T1":1500,"T2":196,"v":1.0},{"T1":1500,"T2":204,"v":1.2},{"T1":1500,"T2":212,"v":1.3},
{"T1":1250,"T2":20,"v":0.1},{"T1":1250,"T2":28,"v":0.2},{"T1":1250,"T2":36,"v":0.2},{"T1":1250,"T2":44,"v":0.3},{"T1":1250,"T2":52,"v":0.3},{"T1":1250,"T2":60,"v":0.4},{"T1":1250,"T2":68,"v":0.4},{"T1":1250,"T2":76,"v":0.5},{"T1":1250,"T2":84,"v":0.5},{"T1":1250,"T2":92,"v":0.7},{"T1":1250,"T2":100,"v":0.6},{"T1":1250,"T2":108,"v":0.8},{"T1":1250,"T2":116,"v":0.9},{"T1":1250,"T2":124,"v":0.8},{"T1":1250,"T2":132,"v":0.7},{"T1":1250,"T2":140,"v":1.0},{"T1":1250,"T2":148,"v":1.1},{"T1":1250,"T2":156,"v":0.8},{"T1":1250,"T2":164,"v":1.2},{"T1":1250,"T2":172,"v":0.9},{"T1":1250,"T2":180,"v":1.4},{"T1":1250,"T2":188,"v":1.0},{"T1":1250,"T2":196,"v":1.2},{"T1":1250,"T2":204,"v":1.3},{"T1":1250,"T2":212,"v":1.1},
{"T1":1000,"T2":20,"v":0.1},{"T1":1000,"T2":28,"v":0.2},{"T1":1000,"T2":36,"v":0.2},{"T1":1000,"T2":44,"v":0.3},{"T1":1000,"T2":52,"v":0.3},{"T1":1000,"T2":60,"v":0.4},{"T1":1000,"T2":68,"v":0.4},{"T1":1000,"T2":76,"v":0.5},{"T1":1000,"T2":84,"v":0.6},{"T1":1000,"T2":92,"v":0.6},{"T1":1000,"T2":100,"v":0.8},{"T1":1000,"T2":108,"v":0.9},{"T1":1000,"T2":116,"v":0.7},{"T1":1000,"T2":124,"v":1.0},{"T1":1000,"T2":132,"v":0.8},{"T1":1000,"T2":140,"v":1.1},{"T1":1000,"T2":148,"v":0.9},{"T1":1000,"T2":156,"v":1.1},{"T1":1000,"T2":164,"v":0.8},{"T1":1000,"T2":172,"v":1.2},{"T1":1000,"T2":180,"v":0.9},{"T1":1000,"T2":188,"v":1.2},{"T1":1000,"T2":196,"v":1.1},{"T1":1000,"T2":204,"v":1.6},{"T1":1000,"T2":212,"v":1.5},
{"T1":850,"T2":20,"v":0.1},{"T1":850,"T2":28,"v":0.2},{"T1":850,"T2":36,"v":0.2},{"T1":850,"T2":44,"v":0.3},{"T1":850,"T2":52,"v":0.3},{"T1":850,"T2":60,"v":0.4},{"T1":850,"T2":68,"v":0.4},{"T1":850,"T2":76,"v":0.5},{"T1":850,"T2":84,"v":0.7},{"T1":850,"T2":92,"v":0.6},{"T1":850,"T2":100,"v":0.8},{"T1":850,"T2":108,"v":0.7},{"T1":850,"T2":116,"v":0.8},{"T1":850,"T2":124,"v":0.6},{"T1":850,"T2":132,"v":0.9},{"T1":850,"T2":140,"v":0.7},{"T1":850,"T2":148,"v":1.2},{"T1":850,"T2":156,"v":1.0},{"T1":850,"T2":164,"v":1.3},{"T1":850,"T2":172,"v":1.0},{"T1":850,"T2":180,"v":1.0},{"T1":850,"T2":188,"v":1.1},{"T1":850,"T2":196,"v":1.3},{"T1":850,"T2":204,"v":1.6},{"T1":850,"T2":212,"v":1.3},
{"T1":700,"T2":20,"v":0.1},{"T1":700,"T2":28,"v":0.2},{"T1":700,"T2":36,"v":0.2},{"T1":700,"T2":44,"v":0.3},{"T1":700,"T2":52,"v":0.3},{"T1":700,"T2":60,"v":0.4},{"T1":700,"T2":68,"v":0.4},{"T1":700,"T2":76,"v":0.5},{"T1":700,"T2":84,"v":0.6},{"T1":700,"T2":92,"v":0.6},{"T1":700,"T2":100,"v":0.6},{"T1":700,"T2":108,"v":0.9},{"T1":700,"T2":116,"v":0.8},{"T1":700,"T2":124,"v":0.7},{"T1":700,"T2":132,"v":1.1},{"T1":700,"T2":140,"v":0.8},{"T1":700,"T2":148,"v":1.2},{"T1":700,"T2":156,"v":1.0},{"T1":700,"T2":164,"v":1.3},{"T1":700,"T2":172,"v":0.8},{"T1":700,"T2":180,"v":1.1},{"T1":700,"T2":188,"v":1.3},{"T1":700,"T2":196,"v":1.0},{"T1":700,"T2":204,"v":1.4},{"T1":700,"T2":212,"v":1.2},
{"T1":500,"T2":20,"v":0.1},{"T1":500,"T2":28,"v":0.2},{"T1":500,"T2":36,"v":0.2},{"T1":500,"T2":44,"v":0.3},{"T1":500,"T2":52,"v":0.3},{"T1":500,"T2":60,"v":0.4},{"T1":500,"T2":68,"v":0.5},{"T1":500,"T2":76,"v":0.5},{"T1":500,"T2":84,"v":0.6},{"T1":500,"T2":92,"v":0.6},{"T1":500,"T2":100,"v":0.7},{"T1":500,"T2":108,"v":0.7},{"T1":500,"T2":116,"v":0.9},{"T1":500,"T2":124,"v":0.7},{"T1":500,"T2":132,"v":0.8},{"T1":500,"T2":140,"v":1.1},{"T1":500,"T2":148,"v":1.0},{"T1":500,"T2":156,"v":1.0},{"T1":500,"T2":164,"v":0.9},{"T1":500,"T2":172,"v":1.2},{"T1":500,"T2":180,"v":1.1},{"T1":500,"T2":188,"v":1.3},{"T1":500,"T2":196,"v":1.2},{"T1":500,"T2":204,"v":1.0},{"T1":500,"T2":212,"v":1.2}]
},
"bounds":"flush","spacing":812,"resolve":{"scale":{"color":"independent"},"legend":{"color":"independent"}},
"vconcat":[
{"bounds":"flush","spacing":914,"resolve":{"scale":{"color":"independent"},"legend":{"color":"independent"}},"hconcat":[
 {"bounds":"flush","spacing":0,"resolve":{"scale":{"color":"independent"},"legend":{"color":"independent"}},"title":{"text":"(A)","frame":"group","font":"Lato","fontSize":32,"anchor":"start","dx":-58,"dy":40,"offset":0},"hconcat":[{"bounds":"flush","spacing":439,"resolve":{"scale":{"color":"independent"},"legend":{"color":"independent"}},"title":{"text":"B1ₙ = 0.8","frame":"group","anchor":"middle","orient":"bottom","font":"Lato","fontSize":36,"dx":398,"offset":11},"hconcat":[
  {"bounds":"flush","spacing":93,"resolve":{"scale":{"color":"independent"},"legend":{"color":"independent"}},"title":{"text":"3-parameter fit","frame":"group","anchor":"middle","font":"Lato","fontSize":30,"dx":170,"offset":32},"vconcat":[
   {"title":"Relative T2 Error (%)","width":286,"height":248,"data":{"name":"a3e"},"mark":{"type":"rect","width":{"band":1.04},"height":{"band":1.02}},"encoding":{"x":{"field":"T2","type":"ordinal","title":"T2 (ms)","scale":{"domain":[20,40,60,80,100,120,140,160,180,200]},"axis":{"values":[20,60,100,140,180],"labelOffset":-14.3}},"y":{"field":"T1","type":"ordinal","title":"T1 (ms)","scale":{"domain":[2500,2000,1750,1500,1250,1000,850,700,500]},"axis":{"values":[500,1000,1750,2500]}},"color":{"field":"v","type":"quantitative","title":"\u200b\u00a0\u00a0\u00a0\u00a0\u00a0\u00a0\u00a0\u00a0\u00a0(%)","scale":{"domain":[0,1.875,5.625,9.375,13.125,15],"range":["#00007f","#0000ff","#00ffff","#ffff00","#ff0000","#7f0000"]},"legend":{"values":[0,5,10,15]}}}},
   {"title":"Standard Dev of T2 Estimate (ms)","width":286,"height":248,"data":{"name":"a3s"},"mark":{"type":"rect","width":{"band":1.04},"height":{"band":1.02}},"encoding":{"x":{"field":"T2","type":"ordinal","title":"T2 (ms)","scale":{"domain":[20,28,36,44,52,60,68,76,84,92,100,108,116,124,132,140,148,156,164,172,180,188,196,204,212]},"axis":{"values":[20,60,100,140,180],"labelOffset":-5.72}},"y":{"field":"T1","type":"ordinal","title":"T1 (ms)","scale":{"domain":[2500,2000,1750,1500,1250,1000,850,700,500]},"axis":{"values":[500,1000,1750,2500]}},"color":{"field":"v","type":"quantitative","title":"\u200b\u00a0\u00a0\u00a0\u00a0\u00a0\u00a0\u00a0\u00a0\u00a0(ms)","scale":{"domain":[0,0.75,2.25,3.75,5.25,6],"range":["#00007f","#0000ff","#00ffff","#ffff00","#ff0000","#7f0000"]},"legend":{"values":[0,1,2,3,4,5,6]}}}}
  ]},
  {"bounds":"flush","spacing":93,"resolve":{"scale":{"color":"independent"},"legend":{"color":"independent"}},"title":{"text":"2-parameter fit","frame":"group","anchor":"middle","font":"Lato","fontSize":30,"dx":169,"offset":32},"vconcat":[
   {"title":"Relative T2 Error (%)","width":286,"height":248,"data":{"name":"a2e"},"mark":{"type":"rect","width":{"band":1.04},"height":{"band":1.02}},"encoding":{"x":{"field":"T2","type":"ordinal","title":"T2 (ms)","scale":{"domain":[20,40,60,80,100,120,140,160,180,200]},"axis":{"values":[20,60,100,140,180],"labelOffset":-14.3}},"y":{"field":"T1","type":"ordinal","title":"T1 (ms)","scale":{"domain":[2500,2000,1750,1500,1250,1000,850,700,500]},"axis":{"values":[500,1000,1750,2500]}},"color":{"field":"v","type":"quantitative","title":"\u200b\u00a0\u00a0\u00a0\u00a0\u00a0\u00a0\u00a0\u00a0\u00a0\u00a0(%)","scale":{"domain":[0,1.875,5.625,9.375,13.125,15],"range":["#00007f","#0000ff","#00ffff","#ffff00","#ff0000","#7f0000"]},"legend":{"values":[0,5,10,15]}}}},
   {"title":"Standard Dev of T2 Estimate (ms)","width":286,"height":248,"data":{"name":"a2s"},"mark":{"type":"rect","width":{"band":1.04},"height":{"band":1.02}},"encoding":{"x":{"field":"T2","type":"ordinal","title":"T2 (ms)","scale":{"domain":[20,28,36,44,52,60,68,76,84,92,100,108,116,124,132,140,148,156,164,172,180,188,196,204,212]},"axis":{"values":[20,60,100,140,180],"labelOffset":-5.72}},"y":{"field":"T1","type":"ordinal","title":"T1 (ms)","scale":{"domain":[2500,2000,1750,1500,1250,1000,850,700,500]},"axis":{"values":[500,1000,1750,2500]}},"color":{"field":"v","type":"quantitative","title":"\u200b\u00a0\u00a0\u00a0\u00a0\u00a0\u00a0\u00a0\u00a0(ms)","scale":{"domain":[0,0.75,2.25,3.75,5.25,6],"range":["#00007f","#0000ff","#00ffff","#ffff00","#ff0000","#7f0000"]},"legend":{"values":[0,1,2,3,4,5,6]}}}}
  ]}
 ]}]},
 {"bounds":"flush","spacing":0,"resolve":{"scale":{"color":"independent"},"legend":{"color":"independent"}},"title":{"text":"(B)","frame":"group","font":"Lato","fontSize":32,"anchor":"start","dx":-61,"dy":47,"offset":0},"hconcat":[{"bounds":"flush","spacing":459,"resolve":{"scale":{"color":"independent"},"legend":{"color":"independent"}},"title":{"text":"B1ₙ = 1.0","frame":"group","anchor":"middle","orient":"bottom","font":"Lato","fontSize":36,"dx":399,"offset":6},"hconcat":[
  {"bounds":"flush","spacing":93,"resolve":{"scale":{"color":"independent"},"legend":{"color":"independent"}},"title":{"text":"3-parameter fit","frame":"group","anchor":"middle","font":"Lato","fontSize":30,"dx":162,"offset":36},"vconcat":[
   {"title":"Relative T2 Error (%)","width":286,"height":248,"data":{"name":"b3e"},"mark":{"type":"rect","width":{"band":1.04},"height":{"band":1.02}},"encoding":{"x":{"field":"T2","type":"ordinal","title":"T2 (ms)","scale":{"domain":[20,40,60,80,100,120,140,160,180,200]},"axis":{"values":[20,60,100,140,180],"labelOffset":-14.3}},"y":{"field":"T1","type":"ordinal","title":"T1 (ms)","scale":{"domain":[2500,2000,1750,1500,1250,1000,850,700,500]},"axis":{"values":[500,1000,1750,2500]}},"color":{"field":"v","type":"quantitative","title":"\u200b\u00a0\u00a0\u00a0\u00a0\u00a0\u00a0\u00a0\u00a0\u00a0(%)","scale":{"domain":[0,1.875,5.625,9.375,13.125,15],"range":["#00007f","#0000ff","#00ffff","#ffff00","#ff0000","#7f0000"]},"legend":{"values":[0,5,10,15]}}}},
   {"title":"Standard Dev of T2 Estimate (ms)","width":286,"height":248,"data":{"name":"b3s"},"mark":{"type":"rect","width":{"band":1.04},"height":{"band":1.02}},"encoding":{"x":{"field":"T2","type":"ordinal","title":"T2 (ms)","scale":{"domain":[20,28,36,44,52,60,68,76,84,92,100,108,116,124,132,140,148,156,164,172,180,188,196,204,212]},"axis":{"values":[20,60,100,140,180],"labelOffset":-5.72}},"y":{"field":"T1","type":"ordinal","title":"T1 (ms)","scale":{"domain":[2500,2000,1750,1500,1250,1000,850,700,500]},"axis":{"values":[500,1000,1750,2500]}},"color":{"field":"v","type":"quantitative","title":"\u200b\u00a0\u00a0\u00a0\u00a0\u00a0\u00a0\u00a0\u00a0\u00a0\u00a0(ms)","scale":{"domain":[0,0.75,2.25,3.75,5.25,6],"range":["#00007f","#0000ff","#00ffff","#ffff00","#ff0000","#7f0000"]},"legend":{"values":[0,1,2,3,4,5,6]}}}}
  ]},
  {"bounds":"flush","spacing":93,"resolve":{"scale":{"color":"independent"},"legend":{"color":"independent"}},"title":{"text":"2-parameter fit","frame":"group","anchor":"middle","font":"Lato","fontSize":30,"dx":141,"offset":36},"vconcat":[
   {"title":"Relative T2 Error (%)","width":286,"height":248,"data":{"name":"b2e"},"mark":{"type":"rect","width":{"band":1.04},"height":{"band":1.02}},"encoding":{"x":{"field":"T2","type":"ordinal","title":"T2 (ms)","scale":{"domain":[20,40,60,80,100,120,140,160,180,200]},"axis":{"values":[20,60,100,140,180],"labelOffset":-14.3}},"y":{"field":"T1","type":"ordinal","title":"T1 (ms)","scale":{"domain":[2500,2000,1750,1500,1250,1000,850,700,500]},"axis":{"values":[500,1000,1750,2500]}},"color":{"field":"v","type":"quantitative","title":"\u200b\u00a0\u00a0\u00a0\u00a0\u00a0\u00a0\u00a0\u00a0\u00a0\u00a0(%)","scale":{"domain":[0,1.875,5.625,9.375,13.125,15],"range":["#00007f","#0000ff","#00ffff","#ffff00","#ff0000","#7f0000"]},"legend":{"values":[0,5,10,15]}}}},
   {"title":"Standard Dev of T2 Estimate (ms)","width":286,"height":248,"data":{"name":"b2s"},"mark":{"type":"rect","width":{"band":1.04},"height":{"band":1.02}},"encoding":{"x":{"field":"T2","type":"ordinal","title":"T2 (ms)","scale":{"domain":[20,28,36,44,52,60,68,76,84,92,100,108,116,124,132,140,148,156,164,172,180,188,196,204,212]},"axis":{"values":[20,60,100,140,180],"labelOffset":-5.72}},"y":{"field":"T1","type":"ordinal","title":"T1 (ms)","scale":{"domain":[2500,2000,1750,1500,1250,1000,850,700,500]},"axis":{"values":[500,1000,1750,2500]}},"color":{"field":"v","type":"quantitative","title":"\u200b\u00a0\u00a0\u00a0\u00a0\u00a0\u00a0\u00a0\u00a0\u00a0\u00a0(ms)","scale":{"domain":[0,0.75,2.25,3.75,5.25,6],"range":["#00007f","#0000ff","#00ffff","#ffff00","#ff0000","#7f0000"]},"legend":{"values":[0,1,2,3,4,5,6]}}}}
  ]}
 ]}]}
]},
{"bounds":"flush","spacing":229,"resolve":{"scale":{"color":"independent"},"legend":{"color":"independent"}},"hconcat":[
 {"width":229,"height":1,"view":{"stroke":null,"fill":null},"data":{"values":[]},"mark":"rect","encoding":{}},
 {"bounds":"flush","spacing":0,"resolve":{"scale":{"color":"independent"},"legend":{"color":"independent"}},"title":{"text":"(C)","frame":"group","font":"Lato","fontSize":32,"anchor":"start","dx":-73,"dy":41,"offset":0},"hconcat":[{"bounds":"flush","spacing":436,"resolve":{"scale":{"color":"independent"},"legend":{"color":"independent"}},"title":{"text":"B1ₙ = 1.2","frame":"group","anchor":"middle","orient":"bottom","font":"Lato","fontSize":36,"dx":395,"offset":15},"hconcat":[
  {"bounds":"flush","spacing":92,"resolve":{"scale":{"color":"independent"},"legend":{"color":"independent"}},"title":{"text":"3-parameter fit","frame":"group","anchor":"middle","font":"Lato","fontSize":30,"dx":151,"offset":26},"vconcat":[
   {"title":"Relative T2 Error (%)","width":286,"height":248,"data":{"name":"c3e"},"mark":{"type":"rect","width":{"band":1.04},"height":{"band":1.02}},"encoding":{"x":{"field":"T2","type":"ordinal","title":"T2 (ms)","scale":{"domain":[20,40,60,80,100,120,140,160,180,200]},"axis":{"values":[20,60,100,140,180],"labelOffset":-14.3}},"y":{"field":"T1","type":"ordinal","title":"T1 (ms)","scale":{"domain":[2500,2000,1750,1500,1250,1000,850,700,500]},"axis":{"values":[500,1000,1750,2500]}},"color":{"field":"v","type":"quantitative","title":"\u200b\u00a0\u00a0\u00a0\u00a0\u00a0\u00a0\u00a0\u00a0\u00a0(%)","scale":{"domain":[0,1.875,5.625,9.375,13.125,15],"range":["#00007f","#0000ff","#00ffff","#ffff00","#ff0000","#7f0000"]},"legend":{"values":[0,5,10,15]}}}},
   {"title":"Standard Dev of T2 Estimate (ms)","width":286,"height":248,"data":{"name":"c3s"},"mark":{"type":"rect","width":{"band":1.04},"height":{"band":1.02}},"encoding":{"x":{"field":"T2","type":"ordinal","title":"T2 (ms)","scale":{"domain":[20,28,36,44,52,60,68,76,84,92,100,108,116,124,132,140,148,156,164,172,180,188,196,204,212]},"axis":{"values":[20,60,100,140,180],"labelOffset":-5.72}},"y":{"field":"T1","type":"ordinal","title":"T1 (ms)","scale":{"domain":[2500,2000,1750,1500,1250,1000,850,700,500]},"axis":{"values":[500,1000,1750,2500]}},"color":{"field":"v","type":"quantitative","title":"\u200b\u00a0\u00a0\u00a0\u00a0\u00a0\u00a0\u00a0\u00a0(ms)","scale":{"domain":[0,0.75,2.25,3.75,5.25,6],"range":["#00007f","#0000ff","#00ffff","#ffff00","#ff0000","#7f0000"]},"legend":{"values":[0,1,2,3,4,5,6]}}}}
  ]},
  {"bounds":"flush","spacing":92,"resolve":{"scale":{"color":"independent"},"legend":{"color":"independent"}},"title":{"text":"2-parameter fit","frame":"group","anchor":"middle","font":"Lato","fontSize":30,"dx":152,"offset":26},"vconcat":[
   {"title":"Relative T2 Error (%)","width":286,"height":248,"data":{"name":"c2e"},"mark":{"type":"rect","width":{"band":1.04},"height":{"band":1.02}},"encoding":{"x":{"field":"T2","type":"ordinal","title":"T2 (ms)","scale":{"domain":[20,40,60,80,100,120,140,160,180,200]},"axis":{"values":[20,60,100,140,180],"labelOffset":-14.3}},"y":{"field":"T1","type":"ordinal","title":"T1 (ms)","scale":{"domain":[2500,2000,1750,1500,1250,1000,850,700,500]},"axis":{"values":[500,1000,1750,2500]}},"color":{"field":"v","type":"quantitative","title":"\u200b\u00a0\u00a0\u00a0\u00a0\u00a0\u00a0\u00a0\u00a0\u00a0(%)","scale":{"domain":[0,1.875,5.625,9.375,13.125,15],"range":["#00007f","#0000ff","#00ffff","#ffff00","#ff0000","#7f0000"]},"legend":{"values":[0,5,10,15]}}}},
   {"title":"Standard Dev of T2 Estimate (ms)","width":286,"height":248,"data":{"name":"c2s"},"mark":{"type":"rect","width":{"band":1.04},"height":{"band":1.02}},"encoding":{"x":{"field":"T2","type":"ordinal","title":"T2 (ms)","scale":{"domain":[20,28,36,44,52,60,68,76,84,92,100,108,116,124,132,140,148,156,164,172,180,188,196,204,212]},"axis":{"values":[20,60,100,140,180],"labelOffset":-5.72}},"y":{"field":"T1","type":"ordinal","title":"T1 (ms)","scale":{"domain":[2500,2000,1750,1500,1250,1000,850,700,500]},"axis":{"values":[500,1000,1750,2500]}},"color":{"field":"v","type":"quantitative","title":"\u200b\u00a0\u00a0\u00a0\u00a0\u00a0\u00a0\u00a0\u00a0(ms)","scale":{"domain":[0,0.75,2.25,3.75,5.25,6],"range":["#00007f","#0000ff","#00ffff","#ffff00","#ff0000","#7f0000"]},"legend":{"values":[0,1,2,3,4,5,6]}}}}
  ]}
 ]}]}
]}
]}
